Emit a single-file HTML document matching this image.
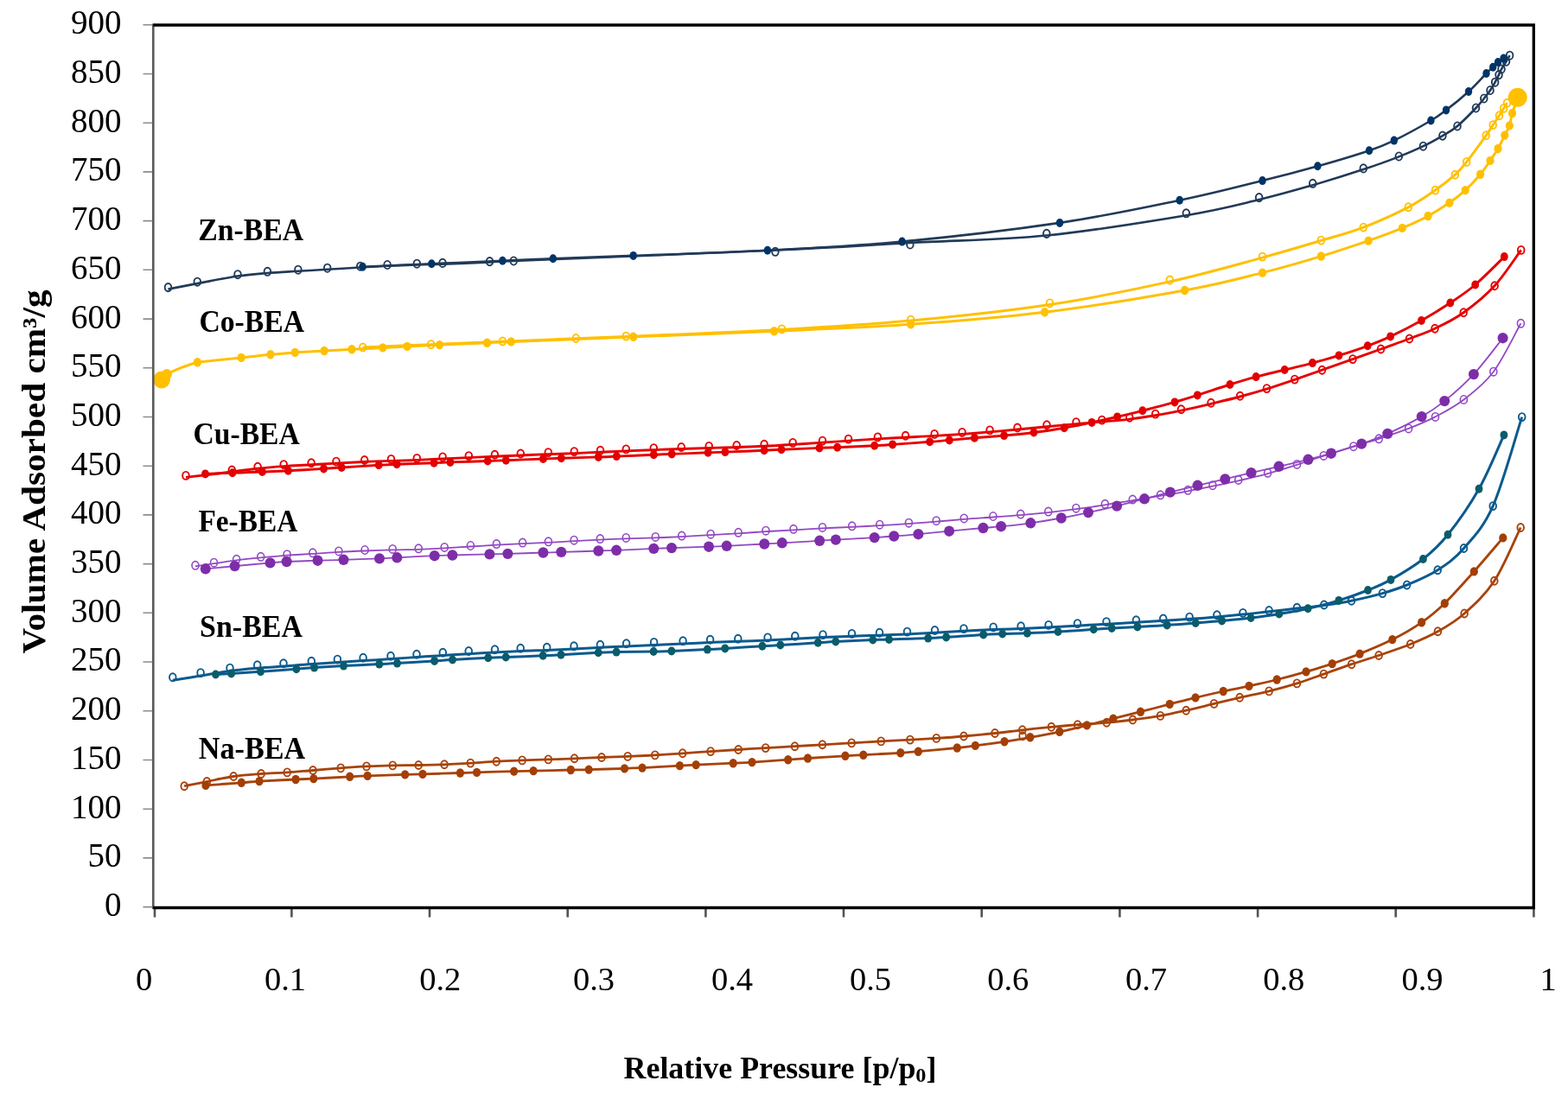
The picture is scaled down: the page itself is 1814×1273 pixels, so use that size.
<!DOCTYPE html><html><head><meta charset="utf-8"><title>Isotherms</title><style>html,body{margin:0;padding:0;background:#fff;}svg{display:block;}text{font-family:"Liberation Serif",serif;}</style></head><body>
<svg width="1814" height="1273" viewBox="0 0 1814 1273">
<rect width="1814" height="1273" fill="#fff"/>
<path d="M165.5,1049.6 H177 M165.5,992.9 H177 M165.5,936.2 H177 M165.5,879.5 H177 M165.5,822.8 H177 M165.5,766 H177 M165.5,709.3 H177 M165.5,652.6 H177 M165.5,595.9 H177 M165.5,539.2 H177 M165.5,482.5 H177 M165.5,425.8 H177 M165.5,369.1 H177 M165.5,312.3 H177 M165.5,255.6 H177 M165.5,198.9 H177 M165.5,142.2 H177 M165.5,85.5 H177 M165.5,28.8 H177" stroke="#8c8c8c" stroke-width="1.6" fill="none"/>
<path d="M179,1051 V1061.5 M337.4,1051 V1061.5 M497,1051 V1061.5 M656.7,1051 V1061.5 M816.4,1051 V1061.5 M976,1051 V1061.5 M1135.7,1051 V1061.5 M1295.4,1051 V1061.5 M1455.1,1051 V1061.5 M1614.7,1051 V1061.5 M1774.4,1051 V1061.5" stroke="#555" stroke-width="2.6" fill="none"/>
<g><path d="M238,908.9C244.9,908.4 269,906.6 279.3,905.8C289.6,905 289.5,904.8 300,904.1C310.5,903.5 331.6,902.5 342.1,902C352.6,901.4 352.4,901.6 362.8,901.1C373.2,900.6 394.3,899.4 404.7,898.8C415.1,898.3 414.5,898.3 425.2,897.9C435.9,897.5 458,896.7 468.6,896.4C479.2,896.1 478.4,896.2 489,895.9C499.6,895.6 522,894.8 532.4,894.5C542.8,894.1 541.2,894.2 551.6,893.9C562,893.5 583.7,892.9 594.6,892.6C605.5,892.3 606.2,892.3 617.1,892.1C628,891.8 649.6,891.3 660.3,891C671,890.8 670.8,890.9 681.2,890.6C691.6,890.3 712.2,889.7 722.5,889.4C732.8,889.1 732.4,889.1 743,888.6C753.6,888 776,886.7 786.4,886.1C796.8,885.5 794.9,885.6 805.2,885.1C815.5,884.6 837.4,883.7 848.2,883.2C859,882.7 859.4,882.8 870,882.1C880.6,881.4 901,879.9 911.7,879.2C922.5,878.4 923.5,878.3 934.5,877.5C945.5,876.8 967.2,875.5 977.9,874.8C988.6,874.2 988.1,874.2 998.8,873.7C1009.4,873.1 1031.2,871.9 1041.8,871.3C1052.4,870.6 1051.4,870.7 1062.3,869.7C1073.2,868.8 1096.3,866.6 1107.3,865.5C1118.3,864.3 1119.2,864.1 1128.3,862.9C1137.4,861.7 1151.4,859.8 1162,858.3C1172.6,856.7 1181.2,855.3 1191.8,853.3C1202.4,851.4 1214.9,849.1 1225.8,846.8C1236.7,844.5 1247.1,841.9 1257.4,839.4C1267.8,836.9 1277.6,834.4 1287.9,831.7C1298.2,829.1 1308.6,826.5 1319.5,823.7C1330.4,820.9 1342.6,817.7 1353.2,814.9C1363.8,812.2 1372.7,809.8 1383,807.4C1393.3,804.9 1404.9,802.3 1415.2,800C1425.5,797.8 1434.7,796.2 1445,793.9C1455.3,791.7 1466.2,789.3 1477.2,786.5C1488.2,783.8 1500.3,780.5 1511,777.4C1521.7,774.4 1530.9,771.5 1541.2,768.1C1551.5,764.6 1561.5,761.3 1573.1,756.6C1584.7,752 1598.9,746.2 1610.8,740.1C1622.7,734.1 1634.5,727.3 1644.6,720.3C1654.7,713.4 1661.2,708 1671.3,698.2C1681.4,688.3 1694,674 1705.3,661.4C1716.5,648.8 1733.2,628.9 1738.8,622.4" fill="none" stroke="#A8430A" stroke-width="2.8" stroke-linejoin="round"/><path d="M213.2,909.7C217.5,908.8 229.8,906.4 239.3,904.5C248.8,902.6 259.7,900 270.2,898.5C280.7,897 291.8,896.3 302.1,895.5C312.4,894.8 322.2,894.6 332.2,893.9C342.2,893.3 351.7,892.3 362,891.5C372.3,890.6 383.9,889.7 394.2,888.9C404.5,888.1 414,887.4 424,886.9C434,886.4 444.3,886.2 454.3,885.9C464.3,885.7 474.2,885.7 484.2,885.5C494.2,885.3 504.1,885.2 514.1,884.8C524.1,884.4 534.3,883.6 544.3,883.1C554.3,882.5 564.3,881.7 574.3,881.2C584.3,880.7 594.1,880.2 604.1,879.9C614.1,879.5 624.2,879.3 634.3,878.9C644.4,878.6 654.2,878.2 664.5,877.8C674.8,877.4 685.7,876.9 696,876.5C706.3,876.2 715.9,875.9 726.2,875.4C736.5,875 747.2,874.5 757.8,873.9C768.4,873.3 779,872.5 789.7,871.8C800.4,871.1 811.4,870.3 822.1,869.6C832.9,868.9 843.6,868.1 854.2,867.5C864.8,866.8 874.8,866.2 885.7,865.6C896.6,865 908.5,864.3 919.5,863.7C930.5,863 940.4,862.5 951.4,861.8C962.4,861.2 973.9,860.5 985.2,859.9C996.5,859.2 1008,858.5 1019.3,857.9C1030.6,857.3 1042.2,856.7 1052.9,856.1C1063.6,855.5 1073,855 1083.3,854.4C1093.6,853.7 1103.7,853 1115,852C1126.3,851 1139.7,849.7 1151,848.5C1162.3,847.3 1171.9,846 1182.8,844.8C1193.7,843.6 1205.7,842.4 1216.3,841.3C1226.9,840.3 1235.9,839.6 1246.6,838.7C1257.2,837.9 1269.6,837.2 1280.2,836.3C1290.8,835.3 1300,834.3 1310.4,833C1320.8,831.6 1332.1,830.2 1342.4,828.4C1352.7,826.6 1361.9,824.5 1372.2,822.2C1382.5,819.9 1394.2,816.9 1404.5,814.4C1414.8,811.9 1423.6,809.8 1434.2,807.3C1444.8,804.9 1457.1,802.6 1468.1,799.9C1479.1,797.1 1489.9,794.2 1500.4,790.9C1511,787.6 1520.9,783.7 1531.4,780.1C1541.9,776.4 1553,772.3 1563.6,768.7C1574.2,765.1 1583.8,762.4 1595.1,758.5C1606.4,754.6 1620.3,750.1 1631.7,745.5C1643.1,740.9 1653,736.7 1663.4,730.8C1673.8,724.9 1683.2,719.7 1694.1,710C1705,700.3 1717.9,688.9 1728.8,672.3C1739.7,655.7 1754.1,620.8 1759.2,610.5" fill="none" stroke="#A8430A" stroke-width="2.8" stroke-linejoin="round"/><ellipse cx="213.2" cy="909.7" rx="3.8" ry="4.5" fill="none" stroke="#A8430A" stroke-width="1.9"/><ellipse cx="239.3" cy="904.5" rx="3.8" ry="4.5" fill="none" stroke="#A8430A" stroke-width="1.9"/><ellipse cx="270.2" cy="898.5" rx="3.8" ry="4.5" fill="none" stroke="#A8430A" stroke-width="1.9"/><ellipse cx="302.1" cy="895.5" rx="3.8" ry="4.5" fill="none" stroke="#A8430A" stroke-width="1.9"/><ellipse cx="332.2" cy="893.9" rx="3.8" ry="4.5" fill="none" stroke="#A8430A" stroke-width="1.9"/><ellipse cx="362" cy="891.5" rx="3.8" ry="4.5" fill="none" stroke="#A8430A" stroke-width="1.9"/><ellipse cx="394.2" cy="888.9" rx="3.8" ry="4.5" fill="none" stroke="#A8430A" stroke-width="1.9"/><ellipse cx="424" cy="886.9" rx="3.8" ry="4.5" fill="none" stroke="#A8430A" stroke-width="1.9"/><ellipse cx="454.3" cy="885.9" rx="3.8" ry="4.5" fill="none" stroke="#A8430A" stroke-width="1.9"/><ellipse cx="484.2" cy="885.5" rx="3.8" ry="4.5" fill="none" stroke="#A8430A" stroke-width="1.9"/><ellipse cx="514.1" cy="884.8" rx="3.8" ry="4.5" fill="none" stroke="#A8430A" stroke-width="1.9"/><ellipse cx="544.3" cy="883.1" rx="3.8" ry="4.5" fill="none" stroke="#A8430A" stroke-width="1.9"/><ellipse cx="574.3" cy="881.2" rx="3.8" ry="4.5" fill="none" stroke="#A8430A" stroke-width="1.9"/><ellipse cx="604.1" cy="879.9" rx="3.8" ry="4.5" fill="none" stroke="#A8430A" stroke-width="1.9"/><ellipse cx="634.3" cy="878.9" rx="3.8" ry="4.5" fill="none" stroke="#A8430A" stroke-width="1.9"/><ellipse cx="664.5" cy="877.8" rx="3.8" ry="4.5" fill="none" stroke="#A8430A" stroke-width="1.9"/><ellipse cx="696" cy="876.5" rx="3.8" ry="4.5" fill="none" stroke="#A8430A" stroke-width="1.9"/><ellipse cx="726.2" cy="875.4" rx="3.8" ry="4.5" fill="none" stroke="#A8430A" stroke-width="1.9"/><ellipse cx="757.8" cy="873.9" rx="3.8" ry="4.5" fill="none" stroke="#A8430A" stroke-width="1.9"/><ellipse cx="789.7" cy="871.8" rx="3.8" ry="4.5" fill="none" stroke="#A8430A" stroke-width="1.9"/><ellipse cx="822.1" cy="869.6" rx="3.8" ry="4.5" fill="none" stroke="#A8430A" stroke-width="1.9"/><ellipse cx="854.2" cy="867.5" rx="3.8" ry="4.5" fill="none" stroke="#A8430A" stroke-width="1.9"/><ellipse cx="885.7" cy="865.6" rx="3.8" ry="4.5" fill="none" stroke="#A8430A" stroke-width="1.9"/><ellipse cx="919.5" cy="863.7" rx="3.8" ry="4.5" fill="none" stroke="#A8430A" stroke-width="1.9"/><ellipse cx="951.4" cy="861.8" rx="3.8" ry="4.5" fill="none" stroke="#A8430A" stroke-width="1.9"/><ellipse cx="985.2" cy="859.9" rx="3.8" ry="4.5" fill="none" stroke="#A8430A" stroke-width="1.9"/><ellipse cx="1019.3" cy="857.9" rx="3.8" ry="4.5" fill="none" stroke="#A8430A" stroke-width="1.9"/><ellipse cx="1052.9" cy="856.1" rx="3.8" ry="4.5" fill="none" stroke="#A8430A" stroke-width="1.9"/><ellipse cx="1083.3" cy="854.4" rx="3.8" ry="4.5" fill="none" stroke="#A8430A" stroke-width="1.9"/><ellipse cx="1115" cy="852" rx="3.8" ry="4.5" fill="none" stroke="#A8430A" stroke-width="1.9"/><ellipse cx="1151" cy="848.5" rx="3.8" ry="4.5" fill="none" stroke="#A8430A" stroke-width="1.9"/><ellipse cx="1182.8" cy="844.8" rx="3.8" ry="4.5" fill="none" stroke="#A8430A" stroke-width="1.9"/><ellipse cx="1216.3" cy="841.3" rx="3.8" ry="4.5" fill="none" stroke="#A8430A" stroke-width="1.9"/><ellipse cx="1246.6" cy="838.7" rx="3.8" ry="4.5" fill="none" stroke="#A8430A" stroke-width="1.9"/><ellipse cx="1280.2" cy="836.3" rx="3.8" ry="4.5" fill="none" stroke="#A8430A" stroke-width="1.9"/><ellipse cx="1310.4" cy="833" rx="3.8" ry="4.5" fill="none" stroke="#A8430A" stroke-width="1.9"/><ellipse cx="1342.4" cy="828.4" rx="3.8" ry="4.5" fill="none" stroke="#A8430A" stroke-width="1.9"/><ellipse cx="1372.2" cy="822.2" rx="3.8" ry="4.5" fill="none" stroke="#A8430A" stroke-width="1.9"/><ellipse cx="1404.5" cy="814.4" rx="3.8" ry="4.5" fill="none" stroke="#A8430A" stroke-width="1.9"/><ellipse cx="1434.2" cy="807.3" rx="3.8" ry="4.5" fill="none" stroke="#A8430A" stroke-width="1.9"/><ellipse cx="1468.1" cy="799.9" rx="3.8" ry="4.5" fill="none" stroke="#A8430A" stroke-width="1.9"/><ellipse cx="1500.4" cy="790.9" rx="3.8" ry="4.5" fill="none" stroke="#A8430A" stroke-width="1.9"/><ellipse cx="1531.4" cy="780.1" rx="3.8" ry="4.5" fill="none" stroke="#A8430A" stroke-width="1.9"/><ellipse cx="1563.6" cy="768.7" rx="3.8" ry="4.5" fill="none" stroke="#A8430A" stroke-width="1.9"/><ellipse cx="1595.1" cy="758.5" rx="3.8" ry="4.5" fill="none" stroke="#A8430A" stroke-width="1.9"/><ellipse cx="1631.7" cy="745.5" rx="3.8" ry="4.5" fill="none" stroke="#A8430A" stroke-width="1.9"/><ellipse cx="1663.4" cy="730.8" rx="3.8" ry="4.5" fill="none" stroke="#A8430A" stroke-width="1.9"/><ellipse cx="1694.1" cy="710" rx="3.8" ry="4.5" fill="none" stroke="#A8430A" stroke-width="1.9"/><ellipse cx="1728.8" cy="672.3" rx="3.8" ry="4.5" fill="none" stroke="#A8430A" stroke-width="1.9"/><ellipse cx="1759.2" cy="610.5" rx="3.8" ry="4.5" fill="none" stroke="#A8430A" stroke-width="1.9"/><ellipse cx="238" cy="908.9" rx="4.6" ry="5.2" fill="#A33F05"/><ellipse cx="279.3" cy="905.8" rx="4.6" ry="5.2" fill="#A33F05"/><ellipse cx="300" cy="904.1" rx="4.6" ry="5.2" fill="#A33F05"/><ellipse cx="342.1" cy="902" rx="4.6" ry="5.2" fill="#A33F05"/><ellipse cx="362.8" cy="901.1" rx="4.6" ry="5.2" fill="#A33F05"/><ellipse cx="404.7" cy="898.8" rx="4.6" ry="5.2" fill="#A33F05"/><ellipse cx="425.2" cy="897.9" rx="4.6" ry="5.2" fill="#A33F05"/><ellipse cx="468.6" cy="896.4" rx="4.6" ry="5.2" fill="#A33F05"/><ellipse cx="489" cy="895.9" rx="4.6" ry="5.2" fill="#A33F05"/><ellipse cx="532.4" cy="894.5" rx="4.6" ry="5.2" fill="#A33F05"/><ellipse cx="551.6" cy="893.9" rx="4.6" ry="5.2" fill="#A33F05"/><ellipse cx="594.6" cy="892.6" rx="4.6" ry="5.2" fill="#A33F05"/><ellipse cx="617.1" cy="892.1" rx="4.6" ry="5.2" fill="#A33F05"/><ellipse cx="660.3" cy="891" rx="4.6" ry="5.2" fill="#A33F05"/><ellipse cx="681.2" cy="890.6" rx="4.6" ry="5.2" fill="#A33F05"/><ellipse cx="722.5" cy="889.4" rx="4.6" ry="5.2" fill="#A33F05"/><ellipse cx="743" cy="888.6" rx="4.6" ry="5.2" fill="#A33F05"/><ellipse cx="786.4" cy="886.1" rx="4.6" ry="5.2" fill="#A33F05"/><ellipse cx="805.2" cy="885.1" rx="4.6" ry="5.2" fill="#A33F05"/><ellipse cx="848.2" cy="883.2" rx="4.6" ry="5.2" fill="#A33F05"/><ellipse cx="870" cy="882.1" rx="4.6" ry="5.2" fill="#A33F05"/><ellipse cx="911.7" cy="879.2" rx="4.6" ry="5.2" fill="#A33F05"/><ellipse cx="934.5" cy="877.5" rx="4.6" ry="5.2" fill="#A33F05"/><ellipse cx="977.9" cy="874.8" rx="4.6" ry="5.2" fill="#A33F05"/><ellipse cx="998.8" cy="873.7" rx="4.6" ry="5.2" fill="#A33F05"/><ellipse cx="1041.8" cy="871.3" rx="4.6" ry="5.2" fill="#A33F05"/><ellipse cx="1062.3" cy="869.7" rx="4.6" ry="5.2" fill="#A33F05"/><ellipse cx="1107.3" cy="865.5" rx="4.6" ry="5.2" fill="#A33F05"/><ellipse cx="1128.3" cy="862.9" rx="4.6" ry="5.2" fill="#A33F05"/><ellipse cx="1162" cy="858.3" rx="4.6" ry="5.2" fill="#A33F05"/><ellipse cx="1191.8" cy="853.3" rx="4.6" ry="5.2" fill="#A33F05"/><ellipse cx="1225.8" cy="846.8" rx="4.6" ry="5.2" fill="#A33F05"/><ellipse cx="1257.4" cy="839.4" rx="4.6" ry="5.2" fill="#A33F05"/><ellipse cx="1287.9" cy="831.7" rx="4.6" ry="5.2" fill="#A33F05"/><ellipse cx="1319.5" cy="823.7" rx="4.6" ry="5.2" fill="#A33F05"/><ellipse cx="1353.2" cy="814.9" rx="4.6" ry="5.2" fill="#A33F05"/><ellipse cx="1383" cy="807.4" rx="4.6" ry="5.2" fill="#A33F05"/><ellipse cx="1415.2" cy="800" rx="4.6" ry="5.2" fill="#A33F05"/><ellipse cx="1445" cy="793.9" rx="4.6" ry="5.2" fill="#A33F05"/><ellipse cx="1477.2" cy="786.5" rx="4.6" ry="5.2" fill="#A33F05"/><ellipse cx="1511" cy="777.4" rx="4.6" ry="5.2" fill="#A33F05"/><ellipse cx="1541.2" cy="768.1" rx="4.6" ry="5.2" fill="#A33F05"/><ellipse cx="1573.1" cy="756.6" rx="4.6" ry="5.2" fill="#A33F05"/><ellipse cx="1610.8" cy="740.1" rx="4.6" ry="5.2" fill="#A33F05"/><ellipse cx="1644.6" cy="720.3" rx="4.6" ry="5.2" fill="#A33F05"/><ellipse cx="1671.3" cy="698.2" rx="4.6" ry="5.2" fill="#A33F05"/><ellipse cx="1705.3" cy="661.4" rx="4.6" ry="5.2" fill="#A33F05"/><ellipse cx="1738.8" cy="622.4" rx="4.6" ry="5.2" fill="#A33F05"/><ellipse cx="1183.1" cy="851.8" rx="3.8" ry="4.5" fill="none" stroke="#A8430A" stroke-width="1.9"/></g>
<g><path d="M249.5,780.5C252.5,780.3 258.9,780 267.6,779.5C276.3,779 288.9,778.2 301.5,777.3C314.1,776.4 332.5,774.9 342.9,774.2C353.2,773.4 354.5,773.2 363.6,772.6C372.7,772 385,771.3 397.5,770.6C410,770 428.5,769.1 438.8,768.6C449.1,768.1 448.9,768.2 459.5,767.6C470.1,766.9 491.9,765.6 502.6,764.9C513.3,764.2 513.1,764.1 523.5,763.5C533.9,762.9 554.4,761.8 564.7,761.3C575,760.8 574.6,760.9 585.2,760.5C595.8,760.1 617.6,759.3 628.2,758.8C638.8,758.4 638.3,758.4 649,757.8C659.7,757.2 681.5,755.8 692.2,755.3C702.9,754.8 702.5,754.9 713.1,754.6C723.8,754.4 745.5,754.1 756.1,754C766.7,753.8 766.5,753.9 776.9,753.5C787.3,753.1 808,752.1 818.3,751.6C828.6,751.1 828.2,751.1 838.8,750.4C849.4,749.8 871.2,748.4 881.9,747.8C892.6,747.1 892.1,747.2 902.8,746.5C913.5,745.9 935.6,744.4 946.3,743.7C957,743.1 956.2,743 966.8,742.5C977.4,741.9 999.5,740.9 1009.8,740.5C1020.1,740.1 1017.9,740.4 1028.5,740C1039.2,739.7 1062.7,739.1 1073.7,738.6C1084.7,738.2 1084,738.1 1094.7,737.4C1105.4,736.7 1126.9,735 1137.7,734.4C1148.5,733.7 1151.2,733.8 1159.7,733.5C1168.2,733.2 1177.7,733.1 1188.4,732.7C1199.1,732.3 1211.2,731.8 1224,731C1236.8,730.3 1254.8,729 1265.2,728.3C1275.6,727.7 1277.8,727.5 1286.2,727C1294.7,726.6 1305.2,726 1315.9,725.4C1326.6,724.8 1338.9,724.2 1350.1,723.4C1361.3,722.7 1372.6,721.8 1383.2,721C1393.8,720.1 1402.9,719.4 1413.6,718.4C1424.2,717.4 1436.1,716.3 1447.1,715C1458.1,713.7 1468.8,712.3 1479.8,710.5C1490.8,708.8 1501.6,706.9 1513.1,704.3C1524.6,701.7 1537.2,698.5 1548.8,694.9C1560.4,691.4 1572.5,687 1582.5,683C1592.5,679 1598.3,676.9 1609,670.9C1619.7,664.9 1635.4,655.6 1646.4,647C1657.4,638.3 1664.2,632.4 1675,618.8C1685.8,605.3 1700.2,585 1711,565.8C1721.8,546.6 1735.1,513.8 1739.9,503.4" fill="none" stroke="#0B5A8E" stroke-width="3.0" stroke-linejoin="round"/><path d="M199.8,787.3C205.2,786.4 221.1,783.9 232.1,782.1C243.1,780.3 255.1,778 266,776.5C276.9,775 287.4,774.1 297.7,773.2C308,772.3 317.6,771.8 328,771.1C338.4,770.3 349.9,769.3 360.3,768.6C370.7,767.8 380.4,767.1 390.4,766.5C400.4,765.8 409.8,765.2 420.1,764.6C430.4,764 441.7,763.3 452,762.6C462.3,761.9 471.9,761.2 482,760.5C492.1,759.8 502.3,759.2 512.3,758.6C522.3,757.9 532.2,757.3 542.2,756.7C552.2,756.1 562.5,755.5 572.5,755C582.5,754.4 592.2,753.9 602.2,753.5C612.2,753 622.4,752.8 632.7,752.4C643,752 653.7,751.5 664,751C674.3,750.5 684.3,749.8 694.4,749.3C704.5,748.8 714.2,748.3 724.6,747.9C735,747.4 745.7,747 756.6,746.5C767.5,746 779.3,745.4 790.1,744.9C800.9,744.3 811,743.8 821.6,743.4C832.2,743 842.7,742.7 853.8,742.3C864.9,741.9 877.1,741.4 888.1,740.9C899.1,740.4 909.1,739.7 919.8,739.2C930.4,738.6 941,738 952,737.5C963,737.1 974.6,736.6 985.5,736.2C996.4,735.9 1006.8,735.6 1017.5,735.2C1028.2,734.8 1038.8,734.4 1049.5,733.9C1060.2,733.4 1070.6,732.9 1081.5,732.3C1092.4,731.7 1103.7,730.9 1115,730.3C1126.3,729.7 1138.2,729.1 1149.2,728.6C1160.2,728.2 1170.4,727.9 1181.1,727.5C1191.8,727 1202.2,726.6 1213.1,726C1224,725.5 1235.3,724.8 1246.5,724.2C1257.7,723.5 1268.7,722.8 1280,722.2C1291.3,721.5 1303.5,720.9 1314.4,720.3C1325.4,719.6 1335.4,719 1345.7,718.3C1356,717.7 1365.7,717 1376.1,716.3C1386.5,715.6 1397.6,714.8 1407.9,713.9C1418.2,713 1427.9,712.1 1437.9,711.1C1447.9,710.1 1457.7,709 1468.1,707.8C1478.5,706.7 1489.8,705.4 1500.4,704.1C1511,702.9 1521.3,701.9 1531.8,700.4C1542.3,699 1552.2,697.5 1563.5,695.2C1574.8,692.9 1588.7,689.7 1599.4,686.6C1610.1,683.6 1617,681.5 1627.6,677C1638.2,672.5 1652.2,666.8 1663.2,659.7C1674.2,652.6 1682.8,646.9 1693.5,634.5C1704.2,622.1 1716,610.9 1727.2,585.6C1738.4,560.3 1755.1,499.8 1760.7,482.6" fill="none" stroke="#0B5A8E" stroke-width="3.0" stroke-linejoin="round"/><ellipse cx="199.8" cy="783.8" rx="3.8" ry="4.5" fill="none" stroke="#0B5A8E" stroke-width="1.9"/><ellipse cx="232.1" cy="778.6" rx="3.8" ry="4.5" fill="none" stroke="#0B5A8E" stroke-width="1.9"/><ellipse cx="266" cy="773.1" rx="3.8" ry="4.5" fill="none" stroke="#0B5A8E" stroke-width="1.9"/><ellipse cx="297.7" cy="769.8" rx="3.8" ry="4.5" fill="none" stroke="#0B5A8E" stroke-width="1.9"/><ellipse cx="328" cy="767.7" rx="3.8" ry="4.5" fill="none" stroke="#0B5A8E" stroke-width="1.9"/><ellipse cx="360.3" cy="765.2" rx="3.8" ry="4.5" fill="none" stroke="#0B5A8E" stroke-width="1.9"/><ellipse cx="390.4" cy="763.1" rx="3.8" ry="4.5" fill="none" stroke="#0B5A8E" stroke-width="1.9"/><ellipse cx="420.1" cy="761.3" rx="3.8" ry="4.5" fill="none" stroke="#0B5A8E" stroke-width="1.9"/><ellipse cx="452" cy="759.3" rx="3.8" ry="4.5" fill="none" stroke="#0B5A8E" stroke-width="1.9"/><ellipse cx="482" cy="757.2" rx="3.8" ry="4.5" fill="none" stroke="#0B5A8E" stroke-width="1.9"/><ellipse cx="512.3" cy="755.3" rx="3.8" ry="4.5" fill="none" stroke="#0B5A8E" stroke-width="1.9"/><ellipse cx="542.2" cy="753.5" rx="3.8" ry="4.5" fill="none" stroke="#0B5A8E" stroke-width="1.9"/><ellipse cx="572.5" cy="751.8" rx="3.8" ry="4.5" fill="none" stroke="#0B5A8E" stroke-width="1.9"/><ellipse cx="602.2" cy="750.3" rx="3.8" ry="4.5" fill="none" stroke="#0B5A8E" stroke-width="1.9"/><ellipse cx="632.7" cy="749.2" rx="3.8" ry="4.5" fill="none" stroke="#0B5A8E" stroke-width="1.9"/><ellipse cx="664" cy="747.8" rx="3.8" ry="4.5" fill="none" stroke="#0B5A8E" stroke-width="1.9"/><ellipse cx="694.4" cy="746.2" rx="3.8" ry="4.5" fill="none" stroke="#0B5A8E" stroke-width="1.9"/><ellipse cx="724.6" cy="744.7" rx="3.8" ry="4.5" fill="none" stroke="#0B5A8E" stroke-width="1.9"/><ellipse cx="756.6" cy="743.4" rx="3.8" ry="4.5" fill="none" stroke="#0B5A8E" stroke-width="1.9"/><ellipse cx="790.1" cy="741.8" rx="3.8" ry="4.5" fill="none" stroke="#0B5A8E" stroke-width="1.9"/><ellipse cx="821.6" cy="740.3" rx="3.8" ry="4.5" fill="none" stroke="#0B5A8E" stroke-width="1.9"/><ellipse cx="853.8" cy="739.3" rx="3.8" ry="4.5" fill="none" stroke="#0B5A8E" stroke-width="1.9"/><ellipse cx="888.1" cy="737.9" rx="3.8" ry="4.5" fill="none" stroke="#0B5A8E" stroke-width="1.9"/><ellipse cx="919.8" cy="736.2" rx="3.8" ry="4.5" fill="none" stroke="#0B5A8E" stroke-width="1.9"/><ellipse cx="952" cy="734.6" rx="3.8" ry="4.5" fill="none" stroke="#0B5A8E" stroke-width="1.9"/><ellipse cx="985.5" cy="733.4" rx="3.8" ry="4.5" fill="none" stroke="#0B5A8E" stroke-width="1.9"/><ellipse cx="1017.5" cy="732.3" rx="3.8" ry="4.5" fill="none" stroke="#0B5A8E" stroke-width="1.9"/><ellipse cx="1049.5" cy="731.1" rx="3.8" ry="4.5" fill="none" stroke="#0B5A8E" stroke-width="1.9"/><ellipse cx="1081.5" cy="729.5" rx="3.8" ry="4.5" fill="none" stroke="#0B5A8E" stroke-width="1.9"/><ellipse cx="1115" cy="727.6" rx="3.8" ry="4.5" fill="none" stroke="#0B5A8E" stroke-width="1.9"/><ellipse cx="1149.2" cy="725.9" rx="3.8" ry="4.5" fill="none" stroke="#0B5A8E" stroke-width="1.9"/><ellipse cx="1181.1" cy="724.8" rx="3.8" ry="4.5" fill="none" stroke="#0B5A8E" stroke-width="1.9"/><ellipse cx="1213.1" cy="723.4" rx="3.8" ry="4.5" fill="none" stroke="#0B5A8E" stroke-width="1.9"/><ellipse cx="1246.5" cy="721.6" rx="3.8" ry="4.5" fill="none" stroke="#0B5A8E" stroke-width="1.9"/><ellipse cx="1280" cy="719.6" rx="3.8" ry="4.5" fill="none" stroke="#0B5A8E" stroke-width="1.9"/><ellipse cx="1314.4" cy="717.8" rx="3.8" ry="4.5" fill="none" stroke="#0B5A8E" stroke-width="1.9"/><ellipse cx="1345.7" cy="716" rx="3.8" ry="4.5" fill="none" stroke="#0B5A8E" stroke-width="1.9"/><ellipse cx="1376.1" cy="714.1" rx="3.8" ry="4.5" fill="none" stroke="#0B5A8E" stroke-width="1.9"/><ellipse cx="1407.9" cy="711.8" rx="3.8" ry="4.5" fill="none" stroke="#0B5A8E" stroke-width="1.9"/><ellipse cx="1437.9" cy="709.4" rx="3.8" ry="4.5" fill="none" stroke="#0B5A8E" stroke-width="1.9"/><ellipse cx="1468.1" cy="706.5" rx="3.8" ry="4.5" fill="none" stroke="#0B5A8E" stroke-width="1.9"/><ellipse cx="1500.4" cy="703.3" rx="3.8" ry="4.5" fill="none" stroke="#0B5A8E" stroke-width="1.9"/><ellipse cx="1531.8" cy="700" rx="3.8" ry="4.5" fill="none" stroke="#0B5A8E" stroke-width="1.9"/><ellipse cx="1563.5" cy="695.2" rx="3.8" ry="4.5" fill="none" stroke="#0B5A8E" stroke-width="1.9"/><ellipse cx="1599.4" cy="686.6" rx="3.8" ry="4.5" fill="none" stroke="#0B5A8E" stroke-width="1.9"/><ellipse cx="1627.6" cy="677" rx="3.8" ry="4.5" fill="none" stroke="#0B5A8E" stroke-width="1.9"/><ellipse cx="1663.2" cy="659.7" rx="3.8" ry="4.5" fill="none" stroke="#0B5A8E" stroke-width="1.9"/><ellipse cx="1693.5" cy="634.5" rx="3.8" ry="4.5" fill="none" stroke="#0B5A8E" stroke-width="1.9"/><ellipse cx="1727.2" cy="585.6" rx="3.8" ry="4.5" fill="none" stroke="#0B5A8E" stroke-width="1.9"/><ellipse cx="1760.7" cy="482.6" rx="3.8" ry="4.5" fill="none" stroke="#0B5A8E" stroke-width="1.9"/><ellipse cx="249.5" cy="780.5" rx="4.4" ry="5.0" fill="#0A5C6A"/><ellipse cx="267.6" cy="779.5" rx="4.4" ry="5.0" fill="#0A5C6A"/><ellipse cx="301.5" cy="777.3" rx="4.4" ry="5.0" fill="#0A5C6A"/><ellipse cx="342.9" cy="774.2" rx="4.4" ry="5.0" fill="#0A5C6A"/><ellipse cx="363.6" cy="772.6" rx="4.4" ry="5.0" fill="#0A5C6A"/><ellipse cx="397.5" cy="770.6" rx="4.4" ry="5.0" fill="#0A5C6A"/><ellipse cx="438.8" cy="768.6" rx="4.4" ry="5.0" fill="#0A5C6A"/><ellipse cx="459.5" cy="767.6" rx="4.4" ry="5.0" fill="#0A5C6A"/><ellipse cx="502.6" cy="764.9" rx="4.4" ry="5.0" fill="#0A5C6A"/><ellipse cx="523.5" cy="763.5" rx="4.4" ry="5.0" fill="#0A5C6A"/><ellipse cx="564.7" cy="761.3" rx="4.4" ry="5.0" fill="#0A5C6A"/><ellipse cx="585.2" cy="760.5" rx="4.4" ry="5.0" fill="#0A5C6A"/><ellipse cx="628.2" cy="758.8" rx="4.4" ry="5.0" fill="#0A5C6A"/><ellipse cx="649" cy="757.8" rx="4.4" ry="5.0" fill="#0A5C6A"/><ellipse cx="692.2" cy="755.3" rx="4.4" ry="5.0" fill="#0A5C6A"/><ellipse cx="713.1" cy="754.6" rx="4.4" ry="5.0" fill="#0A5C6A"/><ellipse cx="756.1" cy="754" rx="4.4" ry="5.0" fill="#0A5C6A"/><ellipse cx="776.9" cy="753.5" rx="4.4" ry="5.0" fill="#0A5C6A"/><ellipse cx="818.3" cy="751.6" rx="4.4" ry="5.0" fill="#0A5C6A"/><ellipse cx="838.8" cy="750.4" rx="4.4" ry="5.0" fill="#0A5C6A"/><ellipse cx="881.9" cy="747.8" rx="4.4" ry="5.0" fill="#0A5C6A"/><ellipse cx="902.8" cy="746.5" rx="4.4" ry="5.0" fill="#0A5C6A"/><ellipse cx="946.3" cy="743.7" rx="4.4" ry="5.0" fill="#0A5C6A"/><ellipse cx="966.8" cy="742.5" rx="4.4" ry="5.0" fill="#0A5C6A"/><ellipse cx="1009.8" cy="740.5" rx="4.4" ry="5.0" fill="#0A5C6A"/><ellipse cx="1028.5" cy="740" rx="4.4" ry="5.0" fill="#0A5C6A"/><ellipse cx="1073.7" cy="738.6" rx="4.4" ry="5.0" fill="#0A5C6A"/><ellipse cx="1094.7" cy="737.4" rx="4.4" ry="5.0" fill="#0A5C6A"/><ellipse cx="1137.7" cy="734.4" rx="4.4" ry="5.0" fill="#0A5C6A"/><ellipse cx="1159.7" cy="733.5" rx="4.4" ry="5.0" fill="#0A5C6A"/><ellipse cx="1188.4" cy="732.7" rx="4.4" ry="5.0" fill="#0A5C6A"/><ellipse cx="1224" cy="731" rx="4.4" ry="5.0" fill="#0A5C6A"/><ellipse cx="1265.2" cy="728.3" rx="4.4" ry="5.0" fill="#0A5C6A"/><ellipse cx="1286.2" cy="727" rx="4.4" ry="5.0" fill="#0A5C6A"/><ellipse cx="1315.9" cy="725.4" rx="4.4" ry="5.0" fill="#0A5C6A"/><ellipse cx="1350.1" cy="723.4" rx="4.4" ry="5.0" fill="#0A5C6A"/><ellipse cx="1383.2" cy="721" rx="4.4" ry="5.0" fill="#0A5C6A"/><ellipse cx="1413.6" cy="718.4" rx="4.4" ry="5.0" fill="#0A5C6A"/><ellipse cx="1447.1" cy="715" rx="4.4" ry="5.0" fill="#0A5C6A"/><ellipse cx="1479.8" cy="710.5" rx="4.4" ry="5.0" fill="#0A5C6A"/><ellipse cx="1513.1" cy="704.3" rx="4.4" ry="5.0" fill="#0A5C6A"/><ellipse cx="1548.8" cy="694.9" rx="4.4" ry="5.0" fill="#0A5C6A"/><ellipse cx="1582.5" cy="683" rx="4.4" ry="5.0" fill="#0A5C6A"/><ellipse cx="1609" cy="670.9" rx="4.4" ry="5.0" fill="#0A5C6A"/><ellipse cx="1646.4" cy="647" rx="4.4" ry="5.0" fill="#0A5C6A"/><ellipse cx="1675" cy="618.8" rx="4.4" ry="5.0" fill="#0A5C6A"/><ellipse cx="1711" cy="565.8" rx="4.4" ry="5.0" fill="#0A5C6A"/><ellipse cx="1739.9" cy="503.4" rx="4.4" ry="5.0" fill="#0A5C6A"/></g>
<g><path d="M237.8,658.3C243.4,657.8 259.1,656.3 271.6,655.1C284.1,654 302.6,652.2 312.6,651.4C322.6,650.5 322.5,650.5 331.6,650C340.8,649.6 356.5,649.1 367.5,648.7C378.5,648.4 385.6,648.1 397.5,647.8C409.4,647.4 428.7,646.8 439,646.4C449.3,646 448.7,645.8 459.3,645.3C469.9,644.7 492,643.6 502.7,643.2C513.4,642.7 512.8,642.8 523.4,642.5C534,642.2 555.7,641.7 566.4,641.4C577.1,641.2 577.1,641.2 587.4,640.9C597.7,640.6 618.1,639.9 628.4,639.5C638.7,639.2 638.6,639.3 649.3,638.9C659.9,638.6 681.7,637.9 692.3,637.5C702.9,637.1 702.4,637.2 713.1,636.8C723.8,636.4 745.6,635.4 756.3,634.9C766.9,634.5 766.4,634.5 777,634.1C787.6,633.7 809.4,633.1 820,632.7C830.6,632.3 830,632.3 840.7,631.8C851.4,631.2 873.6,630.1 884.3,629.5C895,629 894.1,628.9 904.8,628.3C915.4,627.6 937.9,626.4 948.2,625.8C958.6,625.2 956.3,625.2 966.9,624.6C977.5,624 1000.5,622.8 1011.7,622.1C1022.9,621.5 1025.8,621.2 1034.2,620.5C1042.7,619.9 1051.8,619.1 1062.4,618.2C1073.1,617.2 1085.6,615.9 1098.1,614.7C1110.6,613.5 1127.4,611.9 1137.4,611C1147.4,610.1 1148.9,610.2 1158.1,609.2C1167.2,608.3 1180.7,606.9 1192.3,605.3C1203.9,603.6 1216.7,601.5 1227.8,599.5C1238.9,597.5 1248.3,595.4 1259,593.1C1269.7,590.8 1281.3,588.3 1292.1,585.6C1302.9,583 1313.7,580 1324,577.3C1334.3,574.7 1343.5,572.2 1353.8,569.6C1364,567 1374.9,564.3 1385.5,561.8C1396.1,559.3 1407,556.8 1417.3,554.4C1427.6,551.9 1437.1,549.7 1447.5,547.2C1457.9,544.8 1468.5,542.4 1479.5,539.8C1490.5,537.3 1503.3,534.3 1513.4,531.8C1523.5,529.2 1529.7,527.7 1540,524.7C1550.3,521.6 1564.3,517.4 1575.2,513.6C1586.1,509.8 1593.7,507.1 1605.3,501.9C1616.9,496.6 1633.7,488.4 1644.7,482.1C1655.7,475.8 1661.2,472.2 1671.2,464.1C1681.2,455.9 1693.7,445.2 1704.9,433.1C1716.1,421 1733,398.2 1738.6,391.2" fill="none" stroke="#9248C4" stroke-width="1.8" stroke-linejoin="round"/><path d="M226,655.3C229.6,654.8 239.6,653.3 247.5,652.2C255.4,651 264.6,649.4 273.6,648.3C282.6,647.1 291.9,646.2 301.7,645.3C311.4,644.3 322.1,643.5 332.1,642.7C342.1,642 351.8,641.5 361.8,640.8C371.8,640.2 381.8,639.4 391.9,638.9C401.9,638.3 411.7,637.9 422.1,637.5C432.5,637.1 443.9,636.7 454.2,636.4C464.5,636.1 474.2,636.1 484.2,635.8C494.2,635.4 504.2,634.9 514.2,634.4C524.2,633.8 534.4,633.1 544.4,632.5C554.4,631.9 564.4,631.2 574.4,630.6C584.4,630.1 594.6,629.6 604.6,629.1C614.6,628.7 624.5,628.3 634.4,627.8C644.3,627.3 654.1,626.7 664.1,626.2C674.1,625.7 684.3,625.1 694.3,624.6C704.3,624.1 713.6,623.8 724.3,623.4C735,623 747.6,622.8 758.3,622.4C769,622 778.1,621.6 788.7,621.1C799.4,620.6 811.3,619.9 822.2,619.2C833.1,618.6 843.6,617.9 854.2,617.3C864.8,616.6 875.4,615.9 886,615.2C896.6,614.5 907.1,613.9 918,613.3C928.9,612.6 940.2,612 951.5,611.4C962.8,610.9 974.7,610.3 985.7,609.8C996.7,609.3 1006.8,608.8 1017.7,608.2C1028.7,607.6 1040.5,607 1051.4,606.2C1062.3,605.5 1072.6,604.6 1083.2,603.7C1093.8,602.8 1104.3,601.8 1115.3,600.9C1126.2,600 1138,599.3 1148.9,598.5C1159.8,597.7 1170.2,597 1180.8,596.1C1191.4,595.2 1202.1,594.2 1212.8,593.1C1223.5,591.9 1234,590.6 1244.9,589.2C1255.8,587.7 1267.5,586 1278.4,584.3C1289.3,582.7 1299.6,580.8 1310.3,579.1C1321,577.3 1331.8,575.6 1342.5,573.8C1353.2,572 1364.2,570.2 1374.3,568.3C1384.4,566.5 1393.2,564.7 1402.9,562.7C1412.6,560.7 1422.1,558.8 1432.7,556.4C1443.3,553.9 1455.3,551.2 1466.6,548.1C1477.9,545 1489.7,541.4 1500.5,537.9C1511.3,534.5 1520.4,531.2 1531.3,527.6C1542.2,524.1 1555.2,520.1 1565.9,516.7C1576.6,513.4 1584.6,511.3 1595.2,507.8C1605.8,504.3 1618.7,500.1 1629.6,495.9C1640.5,491.7 1649.9,487.9 1660.5,482.4C1671.1,476.8 1682.2,471.2 1693.4,462.5C1704.6,453.8 1716.8,444.9 1727.8,430.2C1738.8,415.5 1754.1,383.6 1759.4,374.3" fill="none" stroke="#9248C4" stroke-width="1.8" stroke-linejoin="round"/><ellipse cx="226" cy="654.3" rx="4.0" ry="4.7" fill="none" stroke="#9248C4" stroke-width="1.6"/><ellipse cx="247.5" cy="651.2" rx="4.0" ry="4.7" fill="none" stroke="#9248C4" stroke-width="1.6"/><ellipse cx="273.6" cy="647.3" rx="4.0" ry="4.7" fill="none" stroke="#9248C4" stroke-width="1.6"/><ellipse cx="301.7" cy="644.3" rx="4.0" ry="4.7" fill="none" stroke="#9248C4" stroke-width="1.6"/><ellipse cx="332.1" cy="641.7" rx="4.0" ry="4.7" fill="none" stroke="#9248C4" stroke-width="1.6"/><ellipse cx="361.8" cy="639.8" rx="4.0" ry="4.7" fill="none" stroke="#9248C4" stroke-width="1.6"/><ellipse cx="391.9" cy="637.9" rx="4.0" ry="4.7" fill="none" stroke="#9248C4" stroke-width="1.6"/><ellipse cx="422.1" cy="636.5" rx="4.0" ry="4.7" fill="none" stroke="#9248C4" stroke-width="1.6"/><ellipse cx="454.2" cy="635.4" rx="4.0" ry="4.7" fill="none" stroke="#9248C4" stroke-width="1.6"/><ellipse cx="484.2" cy="634.8" rx="4.0" ry="4.7" fill="none" stroke="#9248C4" stroke-width="1.6"/><ellipse cx="514.2" cy="633.4" rx="4.0" ry="4.7" fill="none" stroke="#9248C4" stroke-width="1.6"/><ellipse cx="544.4" cy="631.5" rx="4.0" ry="4.7" fill="none" stroke="#9248C4" stroke-width="1.6"/><ellipse cx="574.4" cy="629.6" rx="4.0" ry="4.7" fill="none" stroke="#9248C4" stroke-width="1.6"/><ellipse cx="604.6" cy="628.1" rx="4.0" ry="4.7" fill="none" stroke="#9248C4" stroke-width="1.6"/><ellipse cx="634.4" cy="626.8" rx="4.0" ry="4.7" fill="none" stroke="#9248C4" stroke-width="1.6"/><ellipse cx="664.1" cy="625.2" rx="4.0" ry="4.7" fill="none" stroke="#9248C4" stroke-width="1.6"/><ellipse cx="694.3" cy="623.6" rx="4.0" ry="4.7" fill="none" stroke="#9248C4" stroke-width="1.6"/><ellipse cx="724.3" cy="622.4" rx="4.0" ry="4.7" fill="none" stroke="#9248C4" stroke-width="1.6"/><ellipse cx="758.3" cy="621.4" rx="4.0" ry="4.7" fill="none" stroke="#9248C4" stroke-width="1.6"/><ellipse cx="788.7" cy="620.1" rx="4.0" ry="4.7" fill="none" stroke="#9248C4" stroke-width="1.6"/><ellipse cx="822.2" cy="618.2" rx="4.0" ry="4.7" fill="none" stroke="#9248C4" stroke-width="1.6"/><ellipse cx="854.2" cy="616.3" rx="4.0" ry="4.7" fill="none" stroke="#9248C4" stroke-width="1.6"/><ellipse cx="886" cy="614.2" rx="4.0" ry="4.7" fill="none" stroke="#9248C4" stroke-width="1.6"/><ellipse cx="918" cy="612.3" rx="4.0" ry="4.7" fill="none" stroke="#9248C4" stroke-width="1.6"/><ellipse cx="951.5" cy="610.4" rx="4.0" ry="4.7" fill="none" stroke="#9248C4" stroke-width="1.6"/><ellipse cx="985.7" cy="608.8" rx="4.0" ry="4.7" fill="none" stroke="#9248C4" stroke-width="1.6"/><ellipse cx="1017.7" cy="607.2" rx="4.0" ry="4.7" fill="none" stroke="#9248C4" stroke-width="1.6"/><ellipse cx="1051.4" cy="605.2" rx="4.0" ry="4.7" fill="none" stroke="#9248C4" stroke-width="1.6"/><ellipse cx="1083.2" cy="602.7" rx="4.0" ry="4.7" fill="none" stroke="#9248C4" stroke-width="1.6"/><ellipse cx="1115.3" cy="599.9" rx="4.0" ry="4.7" fill="none" stroke="#9248C4" stroke-width="1.6"/><ellipse cx="1148.9" cy="597.5" rx="4.0" ry="4.7" fill="none" stroke="#9248C4" stroke-width="1.6"/><ellipse cx="1180.8" cy="595.1" rx="4.0" ry="4.7" fill="none" stroke="#9248C4" stroke-width="1.6"/><ellipse cx="1212.8" cy="592.1" rx="4.0" ry="4.7" fill="none" stroke="#9248C4" stroke-width="1.6"/><ellipse cx="1244.9" cy="588.2" rx="4.0" ry="4.7" fill="none" stroke="#9248C4" stroke-width="1.6"/><ellipse cx="1278.4" cy="583.3" rx="4.0" ry="4.7" fill="none" stroke="#9248C4" stroke-width="1.6"/><ellipse cx="1310.3" cy="578.1" rx="4.0" ry="4.7" fill="none" stroke="#9248C4" stroke-width="1.6"/><ellipse cx="1342.5" cy="572.8" rx="4.0" ry="4.7" fill="none" stroke="#9248C4" stroke-width="1.6"/><ellipse cx="1374.3" cy="567.3" rx="4.0" ry="4.7" fill="none" stroke="#9248C4" stroke-width="1.6"/><ellipse cx="1402.9" cy="561.7" rx="4.0" ry="4.7" fill="none" stroke="#9248C4" stroke-width="1.6"/><ellipse cx="1432.7" cy="555.4" rx="4.0" ry="4.7" fill="none" stroke="#9248C4" stroke-width="1.6"/><ellipse cx="1466.6" cy="547.3" rx="4.0" ry="4.7" fill="none" stroke="#9248C4" stroke-width="1.6"/><ellipse cx="1500.5" cy="537.4" rx="4.0" ry="4.7" fill="none" stroke="#9248C4" stroke-width="1.6"/><ellipse cx="1531.3" cy="527.4" rx="4.0" ry="4.7" fill="none" stroke="#9248C4" stroke-width="1.6"/><ellipse cx="1565.9" cy="516.7" rx="4.0" ry="4.7" fill="none" stroke="#9248C4" stroke-width="1.6"/><ellipse cx="1595.2" cy="507.8" rx="4.0" ry="4.7" fill="none" stroke="#9248C4" stroke-width="1.6"/><ellipse cx="1629.6" cy="495.9" rx="4.0" ry="4.7" fill="none" stroke="#9248C4" stroke-width="1.6"/><ellipse cx="1660.5" cy="482.4" rx="4.0" ry="4.7" fill="none" stroke="#9248C4" stroke-width="1.6"/><ellipse cx="1693.4" cy="462.5" rx="4.0" ry="4.7" fill="none" stroke="#9248C4" stroke-width="1.6"/><ellipse cx="1727.8" cy="430.2" rx="4.0" ry="4.7" fill="none" stroke="#9248C4" stroke-width="1.6"/><ellipse cx="1759.4" cy="374.3" rx="4.0" ry="4.7" fill="none" stroke="#9248C4" stroke-width="1.6"/><ellipse cx="237.8" cy="658.3" rx="6.0" ry="6.2" fill="#7E2DA9"/><ellipse cx="271.6" cy="655.1" rx="6.0" ry="6.2" fill="#7E2DA9"/><ellipse cx="312.6" cy="651.4" rx="6.0" ry="6.2" fill="#7E2DA9"/><ellipse cx="331.6" cy="650" rx="6.0" ry="6.2" fill="#7E2DA9"/><ellipse cx="367.5" cy="648.7" rx="6.0" ry="6.2" fill="#7E2DA9"/><ellipse cx="397.5" cy="647.8" rx="6.0" ry="6.2" fill="#7E2DA9"/><ellipse cx="439" cy="646.4" rx="6.0" ry="6.2" fill="#7E2DA9"/><ellipse cx="459.3" cy="645.3" rx="6.0" ry="6.2" fill="#7E2DA9"/><ellipse cx="502.7" cy="643.2" rx="6.0" ry="6.2" fill="#7E2DA9"/><ellipse cx="523.4" cy="642.5" rx="6.0" ry="6.2" fill="#7E2DA9"/><ellipse cx="566.4" cy="641.4" rx="6.0" ry="6.2" fill="#7E2DA9"/><ellipse cx="587.4" cy="640.9" rx="6.0" ry="6.2" fill="#7E2DA9"/><ellipse cx="628.4" cy="639.5" rx="6.0" ry="6.2" fill="#7E2DA9"/><ellipse cx="649.3" cy="638.9" rx="6.0" ry="6.2" fill="#7E2DA9"/><ellipse cx="692.3" cy="637.5" rx="6.0" ry="6.2" fill="#7E2DA9"/><ellipse cx="713.1" cy="636.8" rx="6.0" ry="6.2" fill="#7E2DA9"/><ellipse cx="756.3" cy="634.9" rx="6.0" ry="6.2" fill="#7E2DA9"/><ellipse cx="777" cy="634.1" rx="6.0" ry="6.2" fill="#7E2DA9"/><ellipse cx="820" cy="632.7" rx="6.0" ry="6.2" fill="#7E2DA9"/><ellipse cx="840.7" cy="631.8" rx="6.0" ry="6.2" fill="#7E2DA9"/><ellipse cx="884.3" cy="629.5" rx="6.0" ry="6.2" fill="#7E2DA9"/><ellipse cx="904.8" cy="628.3" rx="6.0" ry="6.2" fill="#7E2DA9"/><ellipse cx="948.2" cy="625.8" rx="6.0" ry="6.2" fill="#7E2DA9"/><ellipse cx="966.9" cy="624.6" rx="6.0" ry="6.2" fill="#7E2DA9"/><ellipse cx="1011.7" cy="622.1" rx="6.0" ry="6.2" fill="#7E2DA9"/><ellipse cx="1034.2" cy="620.5" rx="6.0" ry="6.2" fill="#7E2DA9"/><ellipse cx="1062.4" cy="618.2" rx="6.0" ry="6.2" fill="#7E2DA9"/><ellipse cx="1098.1" cy="614.7" rx="6.0" ry="6.2" fill="#7E2DA9"/><ellipse cx="1137.4" cy="611" rx="6.0" ry="6.2" fill="#7E2DA9"/><ellipse cx="1158.1" cy="609.2" rx="6.0" ry="6.2" fill="#7E2DA9"/><ellipse cx="1192.3" cy="605.3" rx="6.0" ry="6.2" fill="#7E2DA9"/><ellipse cx="1227.8" cy="599.5" rx="6.0" ry="6.2" fill="#7E2DA9"/><ellipse cx="1259" cy="593.1" rx="6.0" ry="6.2" fill="#7E2DA9"/><ellipse cx="1292.1" cy="585.6" rx="6.0" ry="6.2" fill="#7E2DA9"/><ellipse cx="1324" cy="577.3" rx="6.0" ry="6.2" fill="#7E2DA9"/><ellipse cx="1353.8" cy="569.6" rx="6.0" ry="6.2" fill="#7E2DA9"/><ellipse cx="1385.5" cy="561.8" rx="6.0" ry="6.2" fill="#7E2DA9"/><ellipse cx="1417.3" cy="554.4" rx="6.0" ry="6.2" fill="#7E2DA9"/><ellipse cx="1447.5" cy="547.2" rx="6.0" ry="6.2" fill="#7E2DA9"/><ellipse cx="1479.5" cy="539.8" rx="6.0" ry="6.2" fill="#7E2DA9"/><ellipse cx="1513.4" cy="531.8" rx="6.0" ry="6.2" fill="#7E2DA9"/><ellipse cx="1540" cy="524.7" rx="6.0" ry="6.2" fill="#7E2DA9"/><ellipse cx="1575.2" cy="513.6" rx="6.0" ry="6.2" fill="#7E2DA9"/><ellipse cx="1605.3" cy="501.9" rx="6.0" ry="6.2" fill="#7E2DA9"/><ellipse cx="1644.7" cy="482.1" rx="6.0" ry="6.2" fill="#7E2DA9"/><ellipse cx="1671.2" cy="464.1" rx="6.0" ry="6.2" fill="#7E2DA9"/><ellipse cx="1704.9" cy="433.1" rx="6.0" ry="6.2" fill="#7E2DA9"/><ellipse cx="1738.6" cy="391.2" rx="6.0" ry="6.2" fill="#7E2DA9"/></g>
<g><path d="M237.5,548.4C242.7,548.2 257.9,547.6 268.9,547.2C279.9,546.9 292.6,546.5 303.4,546C314.1,545.6 321.5,545.4 333.4,544.8C345.2,544.2 364.2,543.1 374.5,542.4C384.8,541.8 384.6,541.6 395.2,541C405.8,540.3 427.5,538.9 438.2,538.3C448.9,537.7 448.5,537.7 459.1,537.3C469.8,536.9 491.8,536.1 502.1,535.7C512.4,535.3 510.5,535.3 520.9,534.9C531.2,534.6 553.5,533.8 564.2,533.5C575,533.1 574.7,533.1 585.4,532.7C596.1,532.3 617.8,531.4 628.4,531C639,530.6 638.6,530.6 649.3,530.3C659.9,529.9 681.6,529.3 692.3,528.9C703,528.6 702.6,528.6 713.3,528.1C724,527.7 745.6,526.7 756.3,526.3C766.9,525.8 766.7,525.8 777.2,525.4C787.7,525 808.8,524.2 819.1,523.8C829.4,523.5 828.1,523.6 838.9,523.1C849.7,522.7 873.2,521.7 884.1,521.2C895,520.7 893.4,520.7 904,520.3C914.6,519.8 937.2,518.9 948,518.4C958.8,518 958.1,518.1 968.7,517.7C979.3,517.2 1001.1,516.3 1011.7,515.8C1022.4,515.2 1021.9,515.2 1032.6,514.4C1043.2,513.7 1064.6,512.2 1075.6,511.3C1086.5,510.5 1089.7,510.1 1098.3,509.4C1106.9,508.6 1116.9,507.7 1127.4,506.8C1138,505.9 1150.2,505.1 1161.6,504.1C1173,503 1184.4,502 1196,500.5C1207.6,499 1220,497.2 1231.2,495.2C1242.4,493.3 1252.9,491.1 1263.1,488.9C1273.3,486.8 1282.8,484.6 1292.6,482.4C1302.4,480.1 1310.7,478.1 1321.8,475.3C1332.9,472.4 1348.4,468.4 1359,465.4C1369.6,462.4 1374.6,460.8 1385.3,457.4C1396,454 1411.6,448.5 1422.9,445C1434.2,441.4 1442.5,438.9 1453.1,436.1C1463.6,433.3 1475.3,430.7 1486.2,428C1497.1,425.3 1507.9,422.9 1518.4,420.1C1528.9,417.3 1538.4,414.7 1549,411.4C1559.6,408.1 1572.3,403.9 1582.2,400.3C1592.1,396.6 1598.2,394.3 1608.6,389.4C1619,384.5 1632.9,377.4 1644.4,371C1655.9,364.5 1667.4,357.4 1677.8,350.5C1688.2,343.6 1696.3,338.4 1706.7,329.5C1717.1,320.6 1734.7,302.5 1740.3,297.1" fill="none" stroke="#E60000" stroke-width="2.9" stroke-linejoin="round"/><path d="M215,552.4C223.9,551.3 254.5,547.7 268.3,546C282.2,544.3 288.1,543.3 298.1,542.2C308.1,541.1 317.9,540.3 328.2,539.6C338.5,538.9 350,538.4 360.1,537.8C370.2,537.2 378.7,536.7 389,536.1C399.3,535.5 411.1,534.9 421.7,534.5C432.3,534 442.4,533.7 452.5,533.4C462.6,533 472.4,532.8 482.3,532.4C492.2,531.9 502.1,531.4 512.1,530.9C522.1,530.5 532.2,530 542.3,529.6C552.3,529.1 562.4,528.7 572.4,528.2C582.4,527.8 592,527.4 602.3,527C612.6,526.5 624,526 634.3,525.6C644.6,525.2 654.3,525 664.3,524.6C674.3,524.2 684.5,523.6 694.5,523.2C704.5,522.8 714,522.3 724.3,521.9C734.6,521.5 745.6,521 756.3,520.6C766.9,520.2 777.6,519.9 788.2,519.5C798.9,519.1 809.5,518.8 820.2,518.4C830.9,518.1 841.6,517.9 852.2,517.5C862.9,517.2 873.3,516.8 884.1,516.3C894.9,515.8 906,515.1 917.2,514.4C928.4,513.7 940.8,512.8 951.5,512.1C962.2,511.4 970.9,510.8 981.5,510.1C992.1,509.4 1004.4,508.6 1015.4,507.9C1026.4,507.3 1036.6,506.8 1047.6,506.2C1058.5,505.6 1070.2,505.1 1081.1,504.4C1092,503.8 1102.4,503.1 1113.1,502.4C1123.8,501.6 1134.4,500.8 1145.1,499.9C1155.8,499 1166,498.1 1177,497C1188,496 1199.7,494.8 1211,493.8C1222.3,492.7 1234.4,491.6 1245,490.6C1255.6,489.6 1264.5,489 1274.8,488.1C1285.1,487.1 1296.5,486.4 1306.8,485.1C1317.1,483.9 1326.8,482.4 1336.7,480.8C1346.7,479.1 1355.8,477.3 1366.5,475.1C1377.2,472.8 1389.7,470 1401,467.3C1412.3,464.6 1423.8,461.9 1434.6,459C1445.3,456.1 1455,453.3 1465.5,450.1C1476,446.8 1487.1,443 1497.8,439.4C1508.5,435.7 1518.3,432.2 1529.5,428.2C1540.7,424.3 1553.7,419.7 1565,415.6C1576.3,411.6 1586.6,407.9 1597.5,404C1608.4,400 1620.1,395.9 1630.5,392C1640.9,388 1649.5,385.3 1660,380.2C1670.5,375.2 1681.7,370 1693.2,361.7C1704.7,353.4 1718,342.8 1729.1,330.7C1740.2,318.6 1754.6,296.3 1759.7,289.4" fill="none" stroke="#E60000" stroke-width="2.9" stroke-linejoin="round"/><ellipse cx="215" cy="550.4" rx="3.8" ry="4.5" fill="none" stroke="#E60000" stroke-width="1.9"/><ellipse cx="268.3" cy="544" rx="3.8" ry="4.5" fill="none" stroke="#E60000" stroke-width="1.9"/><ellipse cx="298.1" cy="540.2" rx="3.8" ry="4.5" fill="none" stroke="#E60000" stroke-width="1.9"/><ellipse cx="328.2" cy="537.6" rx="3.8" ry="4.5" fill="none" stroke="#E60000" stroke-width="1.9"/><ellipse cx="360.1" cy="535.8" rx="3.8" ry="4.5" fill="none" stroke="#E60000" stroke-width="1.9"/><ellipse cx="389" cy="534.1" rx="3.8" ry="4.5" fill="none" stroke="#E60000" stroke-width="1.9"/><ellipse cx="421.7" cy="532.5" rx="3.8" ry="4.5" fill="none" stroke="#E60000" stroke-width="1.9"/><ellipse cx="452.5" cy="531.4" rx="3.8" ry="4.5" fill="none" stroke="#E60000" stroke-width="1.9"/><ellipse cx="482.3" cy="530.4" rx="3.8" ry="4.5" fill="none" stroke="#E60000" stroke-width="1.9"/><ellipse cx="512.1" cy="528.9" rx="3.8" ry="4.5" fill="none" stroke="#E60000" stroke-width="1.9"/><ellipse cx="542.3" cy="527.6" rx="3.8" ry="4.5" fill="none" stroke="#E60000" stroke-width="1.9"/><ellipse cx="572.4" cy="526.2" rx="3.8" ry="4.5" fill="none" stroke="#E60000" stroke-width="1.9"/><ellipse cx="602.3" cy="525" rx="3.8" ry="4.5" fill="none" stroke="#E60000" stroke-width="1.9"/><ellipse cx="634.3" cy="523.6" rx="3.8" ry="4.5" fill="none" stroke="#E60000" stroke-width="1.9"/><ellipse cx="664.3" cy="522.6" rx="3.8" ry="4.5" fill="none" stroke="#E60000" stroke-width="1.9"/><ellipse cx="694.5" cy="521.2" rx="3.8" ry="4.5" fill="none" stroke="#E60000" stroke-width="1.9"/><ellipse cx="724.3" cy="519.9" rx="3.8" ry="4.5" fill="none" stroke="#E60000" stroke-width="1.9"/><ellipse cx="756.3" cy="518.6" rx="3.8" ry="4.5" fill="none" stroke="#E60000" stroke-width="1.9"/><ellipse cx="788.2" cy="517.5" rx="3.8" ry="4.5" fill="none" stroke="#E60000" stroke-width="1.9"/><ellipse cx="820.2" cy="516.4" rx="3.8" ry="4.5" fill="none" stroke="#E60000" stroke-width="1.9"/><ellipse cx="852.2" cy="515.5" rx="3.8" ry="4.5" fill="none" stroke="#E60000" stroke-width="1.9"/><ellipse cx="884.1" cy="514.3" rx="3.8" ry="4.5" fill="none" stroke="#E60000" stroke-width="1.9"/><ellipse cx="917.2" cy="512.4" rx="3.8" ry="4.5" fill="none" stroke="#E60000" stroke-width="1.9"/><ellipse cx="951.5" cy="510.1" rx="3.8" ry="4.5" fill="none" stroke="#E60000" stroke-width="1.9"/><ellipse cx="981.5" cy="508.1" rx="3.8" ry="4.5" fill="none" stroke="#E60000" stroke-width="1.9"/><ellipse cx="1015.4" cy="505.9" rx="3.8" ry="4.5" fill="none" stroke="#E60000" stroke-width="1.9"/><ellipse cx="1047.6" cy="504.2" rx="3.8" ry="4.5" fill="none" stroke="#E60000" stroke-width="1.9"/><ellipse cx="1081.1" cy="502.4" rx="3.8" ry="4.5" fill="none" stroke="#E60000" stroke-width="1.9"/><ellipse cx="1113.1" cy="500.4" rx="3.8" ry="4.5" fill="none" stroke="#E60000" stroke-width="1.9"/><ellipse cx="1145.1" cy="497.9" rx="3.8" ry="4.5" fill="none" stroke="#E60000" stroke-width="1.9"/><ellipse cx="1177" cy="495" rx="3.8" ry="4.5" fill="none" stroke="#E60000" stroke-width="1.9"/><ellipse cx="1211" cy="491.8" rx="3.8" ry="4.5" fill="none" stroke="#E60000" stroke-width="1.9"/><ellipse cx="1245" cy="488.6" rx="3.8" ry="4.5" fill="none" stroke="#E60000" stroke-width="1.9"/><ellipse cx="1274.8" cy="486.1" rx="3.8" ry="4.5" fill="none" stroke="#E60000" stroke-width="1.9"/><ellipse cx="1306.8" cy="483.2" rx="3.8" ry="4.5" fill="none" stroke="#E60000" stroke-width="1.9"/><ellipse cx="1336.7" cy="479.1" rx="3.8" ry="4.5" fill="none" stroke="#E60000" stroke-width="1.9"/><ellipse cx="1366.5" cy="473.7" rx="3.8" ry="4.5" fill="none" stroke="#E60000" stroke-width="1.9"/><ellipse cx="1401" cy="466.2" rx="3.8" ry="4.5" fill="none" stroke="#E60000" stroke-width="1.9"/><ellipse cx="1434.6" cy="458.2" rx="3.8" ry="4.5" fill="none" stroke="#E60000" stroke-width="1.9"/><ellipse cx="1465.5" cy="449.6" rx="3.8" ry="4.5" fill="none" stroke="#E60000" stroke-width="1.9"/><ellipse cx="1497.8" cy="439.1" rx="3.8" ry="4.5" fill="none" stroke="#E60000" stroke-width="1.9"/><ellipse cx="1529.5" cy="428.2" rx="3.8" ry="4.5" fill="none" stroke="#E60000" stroke-width="1.9"/><ellipse cx="1565" cy="415.6" rx="3.8" ry="4.5" fill="none" stroke="#E60000" stroke-width="1.9"/><ellipse cx="1597.5" cy="404" rx="3.8" ry="4.5" fill="none" stroke="#E60000" stroke-width="1.9"/><ellipse cx="1630.5" cy="392" rx="3.8" ry="4.5" fill="none" stroke="#E60000" stroke-width="1.9"/><ellipse cx="1660" cy="380.2" rx="3.8" ry="4.5" fill="none" stroke="#E60000" stroke-width="1.9"/><ellipse cx="1693.2" cy="361.7" rx="3.8" ry="4.5" fill="none" stroke="#E60000" stroke-width="1.9"/><ellipse cx="1729.1" cy="330.7" rx="3.8" ry="4.5" fill="none" stroke="#E60000" stroke-width="1.9"/><ellipse cx="1759.7" cy="289.4" rx="3.8" ry="4.5" fill="none" stroke="#E60000" stroke-width="1.9"/><ellipse cx="237.5" cy="548.4" rx="4.4" ry="5.0" fill="#E20000"/><ellipse cx="268.9" cy="547.2" rx="4.4" ry="5.0" fill="#E20000"/><ellipse cx="303.4" cy="546" rx="4.4" ry="5.0" fill="#E20000"/><ellipse cx="333.4" cy="544.8" rx="4.4" ry="5.0" fill="#E20000"/><ellipse cx="374.5" cy="542.4" rx="4.4" ry="5.0" fill="#E20000"/><ellipse cx="395.2" cy="541" rx="4.4" ry="5.0" fill="#E20000"/><ellipse cx="438.2" cy="538.3" rx="4.4" ry="5.0" fill="#E20000"/><ellipse cx="459.1" cy="537.3" rx="4.4" ry="5.0" fill="#E20000"/><ellipse cx="502.1" cy="535.7" rx="4.4" ry="5.0" fill="#E20000"/><ellipse cx="520.9" cy="534.9" rx="4.4" ry="5.0" fill="#E20000"/><ellipse cx="564.2" cy="533.5" rx="4.4" ry="5.0" fill="#E20000"/><ellipse cx="585.4" cy="532.7" rx="4.4" ry="5.0" fill="#E20000"/><ellipse cx="628.4" cy="531" rx="4.4" ry="5.0" fill="#E20000"/><ellipse cx="649.3" cy="530.3" rx="4.4" ry="5.0" fill="#E20000"/><ellipse cx="692.3" cy="528.9" rx="4.4" ry="5.0" fill="#E20000"/><ellipse cx="713.3" cy="528.1" rx="4.4" ry="5.0" fill="#E20000"/><ellipse cx="756.3" cy="526.3" rx="4.4" ry="5.0" fill="#E20000"/><ellipse cx="777.2" cy="525.4" rx="4.4" ry="5.0" fill="#E20000"/><ellipse cx="819.1" cy="523.8" rx="4.4" ry="5.0" fill="#E20000"/><ellipse cx="838.9" cy="523.1" rx="4.4" ry="5.0" fill="#E20000"/><ellipse cx="884.1" cy="521.2" rx="4.4" ry="5.0" fill="#E20000"/><ellipse cx="904" cy="520.3" rx="4.4" ry="5.0" fill="#E20000"/><ellipse cx="948" cy="518.4" rx="4.4" ry="5.0" fill="#E20000"/><ellipse cx="968.7" cy="517.7" rx="4.4" ry="5.0" fill="#E20000"/><ellipse cx="1011.7" cy="515.8" rx="4.4" ry="5.0" fill="#E20000"/><ellipse cx="1032.6" cy="514.4" rx="4.4" ry="5.0" fill="#E20000"/><ellipse cx="1075.6" cy="511.3" rx="4.4" ry="5.0" fill="#E20000"/><ellipse cx="1098.3" cy="509.4" rx="4.4" ry="5.0" fill="#E20000"/><ellipse cx="1127.4" cy="506.8" rx="4.4" ry="5.0" fill="#E20000"/><ellipse cx="1161.6" cy="504.1" rx="4.4" ry="5.0" fill="#E20000"/><ellipse cx="1196" cy="500.5" rx="4.4" ry="5.0" fill="#E20000"/><ellipse cx="1231.2" cy="495.2" rx="4.4" ry="5.0" fill="#E20000"/><ellipse cx="1263.1" cy="488.9" rx="4.4" ry="5.0" fill="#E20000"/><ellipse cx="1292.6" cy="482.4" rx="4.4" ry="5.0" fill="#E20000"/><ellipse cx="1321.8" cy="475.3" rx="4.4" ry="5.0" fill="#E20000"/><ellipse cx="1359" cy="465.4" rx="4.4" ry="5.0" fill="#E20000"/><ellipse cx="1385.3" cy="457.4" rx="4.4" ry="5.0" fill="#E20000"/><ellipse cx="1422.9" cy="445" rx="4.4" ry="5.0" fill="#E20000"/><ellipse cx="1453.1" cy="436.1" rx="4.4" ry="5.0" fill="#E20000"/><ellipse cx="1486.2" cy="428" rx="4.4" ry="5.0" fill="#E20000"/><ellipse cx="1518.4" cy="420.1" rx="4.4" ry="5.0" fill="#E20000"/><ellipse cx="1549" cy="411.4" rx="4.4" ry="5.0" fill="#E20000"/><ellipse cx="1582.2" cy="400.3" rx="4.4" ry="5.0" fill="#E20000"/><ellipse cx="1608.6" cy="389.4" rx="4.4" ry="5.0" fill="#E20000"/><ellipse cx="1644.4" cy="371" rx="4.4" ry="5.0" fill="#E20000"/><ellipse cx="1677.8" cy="350.5" rx="4.4" ry="5.0" fill="#E20000"/><ellipse cx="1706.7" cy="329.5" rx="4.4" ry="5.0" fill="#E20000"/><ellipse cx="1740.3" cy="297.1" rx="4.4" ry="5.0" fill="#E20000"/></g>
<g><path d="M228.4,419.3C236.9,418.4 265,415.4 279.1,413.9C293.2,412.4 302.5,411.3 312.9,410.3C323.3,409.3 330.9,408.6 341.3,407.9C351.7,407.2 364.2,406.6 375.1,406C386.1,405.4 395.7,404.9 407,404.3C418.3,403.7 432.1,403 442.8,402.4C453.5,401.8 460.1,401.4 471,400.9C481.9,400.3 493.1,399.8 508.5,399.1C523.9,398.4 549.7,397.3 563.5,396.7C577.3,396.1 563.1,396.6 591.3,395.4C619.5,394.3 682,391.8 732.7,389.8C783.4,387.7 842.1,385.6 895.6,383.2C949.1,380.8 1001.4,379 1053.6,375.3C1105.8,371.7 1155.8,367.8 1208.6,361.3C1261.4,354.7 1328.6,343.6 1370.6,336C1412.6,328.4 1434.2,322.2 1460.5,315.6C1486.8,309 1508,302.7 1528.4,296.5C1548.8,290.4 1567.4,284 1583.1,278.6C1598.8,273.1 1610.8,268.7 1622.3,263.9C1633.8,259.2 1643,254.9 1652.1,250C1661.2,245.1 1669.7,239.6 1676.9,234.6C1684.1,229.6 1689.2,225.6 1695.2,220.1C1701.2,214.6 1707.8,207.4 1712.6,201.7C1717.4,196 1720.6,190.8 1724,185.9C1727.4,181 1730.2,176.9 1733,172C1735.8,167.1 1738.6,160.9 1740.8,156.5C1743,152.1 1744.8,149.7 1746.3,145.4C1747.8,141.2 1747.9,136.4 1749.5,131C1751.1,125.6 1754.7,115.8 1755.7,112.8" fill="none" stroke="#FFC000" stroke-width="3.0" stroke-linejoin="round"/><path d="M419.8,402C432.9,401.5 471.7,399.8 498.6,398.7C525.5,397.6 553.5,396.4 581.4,395.2C609.3,394.1 642.5,392.7 666.3,391.7C690.1,390.8 684.6,391.1 724.3,389.4C764,387.7 849.5,384.5 904.4,381.4C959.3,378.4 1001.9,375.9 1053.6,371.1C1105.3,366.3 1164.5,360 1214.5,352.5C1264.5,345 1312.3,335 1353.3,325.9C1394.3,316.8 1431.3,306 1460.5,298.1C1489.7,290.2 1508.9,284.2 1528.4,278.4C1547.9,272.6 1560.5,269.6 1577.3,263.1C1594.1,256.7 1615.4,246.9 1629.3,239.8C1643.2,232.6 1651.5,226.4 1660.5,220.1C1669.5,213.9 1677.3,207.7 1683.3,202.2C1689.3,196.7 1690.7,195 1696.7,187.4C1702.7,179.8 1714.1,163.9 1719.2,156.8C1724.3,149.7 1724.7,148.4 1727.2,144.6C1729.8,140.8 1732.4,136.9 1734.5,133.7C1736.6,130.5 1738.1,127.8 1739.6,125.4C1741.1,123 1742.8,120.2 1743.5,119.2" fill="none" stroke="#FFC000" stroke-width="3.0" stroke-linejoin="round"/><ellipse cx="419.8" cy="402" rx="3.8" ry="4.5" fill="none" stroke="#FFC000" stroke-width="1.9"/><ellipse cx="498.6" cy="398.6" rx="3.8" ry="4.5" fill="none" stroke="#FFC000" stroke-width="1.9"/><ellipse cx="581.4" cy="395" rx="3.8" ry="4.5" fill="none" stroke="#FFC000" stroke-width="1.9"/><ellipse cx="666.3" cy="391.5" rx="3.8" ry="4.5" fill="none" stroke="#FFC000" stroke-width="1.9"/><ellipse cx="724.3" cy="389.1" rx="3.8" ry="4.5" fill="none" stroke="#FFC000" stroke-width="1.9"/><ellipse cx="904.4" cy="380.9" rx="3.8" ry="4.5" fill="none" stroke="#FFC000" stroke-width="1.9"/><ellipse cx="1053.6" cy="370.1" rx="3.8" ry="4.5" fill="none" stroke="#FFC000" stroke-width="1.9"/><ellipse cx="1214.5" cy="350.9" rx="3.8" ry="4.5" fill="none" stroke="#FFC000" stroke-width="1.9"/><ellipse cx="1353.3" cy="324" rx="3.8" ry="4.5" fill="none" stroke="#FFC000" stroke-width="1.9"/><ellipse cx="1460.5" cy="297.1" rx="3.8" ry="4.5" fill="none" stroke="#FFC000" stroke-width="1.9"/><ellipse cx="1528.4" cy="278.1" rx="3.8" ry="4.5" fill="none" stroke="#FFC000" stroke-width="1.9"/><ellipse cx="1577.3" cy="263.1" rx="3.8" ry="4.5" fill="none" stroke="#FFC000" stroke-width="1.9"/><ellipse cx="1629.3" cy="239.8" rx="3.8" ry="4.5" fill="none" stroke="#FFC000" stroke-width="1.9"/><ellipse cx="1660.5" cy="220.1" rx="3.8" ry="4.5" fill="none" stroke="#FFC000" stroke-width="1.9"/><ellipse cx="1683.3" cy="202.2" rx="3.8" ry="4.5" fill="none" stroke="#FFC000" stroke-width="1.9"/><ellipse cx="1696.7" cy="187.4" rx="3.8" ry="4.5" fill="none" stroke="#FFC000" stroke-width="1.9"/><ellipse cx="1719.2" cy="156.8" rx="3.8" ry="4.5" fill="none" stroke="#FFC000" stroke-width="1.9"/><ellipse cx="1727.2" cy="144.6" rx="3.8" ry="4.5" fill="none" stroke="#FFC000" stroke-width="1.9"/><ellipse cx="1734.5" cy="133.7" rx="3.8" ry="4.5" fill="none" stroke="#FFC000" stroke-width="1.9"/><ellipse cx="1739.6" cy="125.4" rx="3.8" ry="4.5" fill="none" stroke="#FFC000" stroke-width="1.9"/><ellipse cx="1743.5" cy="119.2" rx="3.8" ry="4.5" fill="none" stroke="#FFC000" stroke-width="1.9"/><ellipse cx="228.4" cy="419.3" rx="4.6" ry="5.2" fill="#FFC000"/><ellipse cx="279.1" cy="413.9" rx="4.6" ry="5.2" fill="#FFC000"/><ellipse cx="312.9" cy="410.3" rx="4.6" ry="5.2" fill="#FFC000"/><ellipse cx="341.3" cy="407.9" rx="4.6" ry="5.2" fill="#FFC000"/><ellipse cx="375.1" cy="406" rx="4.6" ry="5.2" fill="#FFC000"/><ellipse cx="407" cy="404.3" rx="4.6" ry="5.2" fill="#FFC000"/><ellipse cx="442.8" cy="402.4" rx="4.6" ry="5.2" fill="#FFC000"/><ellipse cx="471" cy="400.9" rx="4.6" ry="5.2" fill="#FFC000"/><ellipse cx="508.5" cy="399.1" rx="4.6" ry="5.2" fill="#FFC000"/><ellipse cx="563.5" cy="396.7" rx="4.6" ry="5.2" fill="#FFC000"/><ellipse cx="591.3" cy="395.4" rx="4.6" ry="5.2" fill="#FFC000"/><ellipse cx="732.7" cy="389.8" rx="4.6" ry="5.2" fill="#FFC000"/><ellipse cx="895.6" cy="383.2" rx="4.6" ry="5.2" fill="#FFC000"/><ellipse cx="1053.6" cy="375.3" rx="4.6" ry="5.2" fill="#FFC000"/><ellipse cx="1208.6" cy="361.3" rx="4.6" ry="5.2" fill="#FFC000"/><ellipse cx="1370.6" cy="336" rx="4.6" ry="5.2" fill="#FFC000"/><ellipse cx="1460.5" cy="315.6" rx="4.6" ry="5.2" fill="#FFC000"/><ellipse cx="1528.4" cy="296.5" rx="4.6" ry="5.2" fill="#FFC000"/><ellipse cx="1583.1" cy="278.6" rx="4.6" ry="5.2" fill="#FFC000"/><ellipse cx="1622.3" cy="263.9" rx="4.6" ry="5.2" fill="#FFC000"/><ellipse cx="1652.1" cy="250" rx="4.6" ry="5.2" fill="#FFC000"/><ellipse cx="1676.9" cy="234.6" rx="4.6" ry="5.2" fill="#FFC000"/><ellipse cx="1695.2" cy="220.1" rx="4.6" ry="5.2" fill="#FFC000"/><ellipse cx="1712.6" cy="201.7" rx="4.6" ry="5.2" fill="#FFC000"/><ellipse cx="1724" cy="185.9" rx="4.6" ry="5.2" fill="#FFC000"/><ellipse cx="1733" cy="172" rx="4.6" ry="5.2" fill="#FFC000"/><ellipse cx="1740.8" cy="156.5" rx="4.6" ry="5.2" fill="#FFC000"/><ellipse cx="1746.3" cy="145.4" rx="4.6" ry="5.2" fill="#FFC000"/><ellipse cx="1749.5" cy="131" rx="4.6" ry="5.2" fill="#FFC000"/><ellipse cx="1755.7" cy="112.8" rx="4.6" ry="5.2" fill="#FFC000"/><circle cx="187" cy="439.5" r="10" fill="#FFC000"/><circle cx="193" cy="433" r="6" fill="#FFC000"/><circle cx="1755.7" cy="112.8" r="11" fill="#FFC000"/><path d="M193,433 C205,427 215,423 228.4,419.3" stroke="#FFC000" stroke-width="3" fill="none"/></g>
<g><path d="M419.5,308.8C432.8,308.2 472.3,306.4 499.3,305.3C526.3,304.1 558,302.7 581.4,301.7C604.8,300.7 614.6,300.3 639.8,299.3C665,298.3 691.4,297.5 732.7,295.9C774.1,294.3 836.1,292.6 887.9,289.8C939.7,287.1 987.2,284.9 1043.6,279.6C1099.9,274.3 1172.5,265.8 1226,257.9C1279.5,249.9 1325.6,239.9 1364.7,231.8C1403.8,223.7 1433.9,215.7 1460.5,209.1C1487.1,202.6 1503.8,198.1 1524.4,192.3C1545,186.5 1569.3,179.2 1584,174.2C1598.7,169.3 1600.9,168.4 1612.8,162.6C1624.7,156.8 1645.4,145.4 1655.4,139.5C1665.4,133.6 1665.7,133 1673,127.4C1680.3,121.9 1691.2,113.1 1699,106C1706.8,98.9 1714.8,89.7 1719.5,85C1724.2,80.3 1725,79.9 1727.2,77.7C1729.5,75.5 1731,73.7 1733,72C1735,70.3 1738.4,68.2 1739.5,67.5" fill="none" stroke="#213A58" stroke-width="2.6" stroke-linejoin="round"/><path d="M194.5,334.6C200.1,333.5 214.9,330.6 228.3,328.1C241.7,325.6 261.5,321.5 275,319.5C288.5,317.5 297.8,317 309.4,316C321,315.1 333.3,314.5 344.9,313.8C356.4,313.1 366.7,312.4 378.7,311.7C390.7,311 405.2,310.2 416.8,309.5C428.4,308.9 437.2,308.3 448.1,307.8C459,307.3 471.7,306.8 482.3,306.4C492.9,306 498,306 512,305.6C526,305.1 552.8,304.1 566.5,303.5C580.2,302.9 539.1,304.3 594.2,302C649.3,299.7 820.4,293 896.9,289.5C973.4,286 1000.6,283.8 1052.9,281C1105.2,278.1 1157.6,277.8 1210.8,272.5C1264,267.2 1331.3,256.1 1372.3,249.2C1413.3,242.3 1432.2,236.9 1456.6,231.1C1481,225.2 1498.6,220.1 1518.7,214.3C1538.8,208.5 1560.7,201.6 1577.3,196.1C1593.9,190.6 1606.8,185.9 1618.3,181.4C1629.8,176.9 1638.1,173.3 1646.5,169.2C1654.9,165.2 1662.3,161 1668.9,157.1C1675.5,153.3 1679.6,151.4 1686,146C1692.4,140.6 1702.4,130.3 1707.5,125C1712.6,119.7 1714,117.4 1716.8,114C1719.5,110.6 1721.9,107.6 1724,104.5C1726.1,101.4 1727.9,98.2 1729.6,95.2C1731.3,92.2 1732.8,89.1 1734,86.6C1735.2,84.1 1735.6,82.6 1737,80C1738.4,77.4 1740.9,73.8 1742.5,71.2C1744.1,68.6 1745.9,65.4 1746.6,64.2" fill="none" stroke="#213A58" stroke-width="2.6" stroke-linejoin="round"/><ellipse cx="194.5" cy="332.6" rx="3.8" ry="4.6" fill="none" stroke="#213A58" stroke-width="1.9"/><ellipse cx="228.3" cy="326.2" rx="3.8" ry="4.6" fill="none" stroke="#213A58" stroke-width="1.9"/><ellipse cx="275" cy="317.7" rx="3.8" ry="4.6" fill="none" stroke="#213A58" stroke-width="1.9"/><ellipse cx="309.4" cy="314.3" rx="3.8" ry="4.6" fill="none" stroke="#213A58" stroke-width="1.9"/><ellipse cx="344.9" cy="312.2" rx="3.8" ry="4.6" fill="none" stroke="#213A58" stroke-width="1.9"/><ellipse cx="378.7" cy="310.2" rx="3.8" ry="4.6" fill="none" stroke="#213A58" stroke-width="1.9"/><ellipse cx="416.8" cy="308.2" rx="3.8" ry="4.6" fill="none" stroke="#213A58" stroke-width="1.9"/><ellipse cx="448.1" cy="306.5" rx="3.8" ry="4.6" fill="none" stroke="#213A58" stroke-width="1.9"/><ellipse cx="482.3" cy="305.2" rx="3.8" ry="4.6" fill="none" stroke="#213A58" stroke-width="1.9"/><ellipse cx="512" cy="304.4" rx="3.8" ry="4.6" fill="none" stroke="#213A58" stroke-width="1.9"/><ellipse cx="566.5" cy="302.6" rx="3.8" ry="4.6" fill="none" stroke="#213A58" stroke-width="1.9"/><ellipse cx="594.2" cy="302" rx="3.8" ry="4.6" fill="none" stroke="#213A58" stroke-width="1.9"/><ellipse cx="896.9" cy="291.3" rx="3.8" ry="4.6" fill="none" stroke="#213A58" stroke-width="1.9"/><ellipse cx="1052.9" cy="283" rx="3.8" ry="4.6" fill="none" stroke="#213A58" stroke-width="1.9"/><ellipse cx="1210.8" cy="270.4" rx="3.8" ry="4.6" fill="none" stroke="#213A58" stroke-width="1.9"/><ellipse cx="1372.3" cy="246.8" rx="3.8" ry="4.6" fill="none" stroke="#213A58" stroke-width="1.9"/><ellipse cx="1456.6" cy="228.6" rx="3.8" ry="4.6" fill="none" stroke="#213A58" stroke-width="1.9"/><ellipse cx="1518.7" cy="212.3" rx="3.8" ry="4.6" fill="none" stroke="#213A58" stroke-width="1.9"/><ellipse cx="1577.3" cy="194.9" rx="3.8" ry="4.6" fill="none" stroke="#213A58" stroke-width="1.9"/><ellipse cx="1618.3" cy="181" rx="3.8" ry="4.6" fill="none" stroke="#213A58" stroke-width="1.9"/><ellipse cx="1646.5" cy="169.2" rx="3.8" ry="4.6" fill="none" stroke="#213A58" stroke-width="1.9"/><ellipse cx="1668.9" cy="157.1" rx="3.8" ry="4.6" fill="none" stroke="#213A58" stroke-width="1.9"/><ellipse cx="1686" cy="146" rx="3.8" ry="4.6" fill="none" stroke="#213A58" stroke-width="1.9"/><ellipse cx="1707.5" cy="125" rx="3.8" ry="4.6" fill="none" stroke="#213A58" stroke-width="1.9"/><ellipse cx="1716.8" cy="114" rx="3.8" ry="4.6" fill="none" stroke="#213A58" stroke-width="1.9"/><ellipse cx="1724" cy="104.5" rx="3.8" ry="4.6" fill="none" stroke="#213A58" stroke-width="1.9"/><ellipse cx="1729.6" cy="95.2" rx="3.8" ry="4.6" fill="none" stroke="#213A58" stroke-width="1.9"/><ellipse cx="1734" cy="86.6" rx="3.8" ry="4.6" fill="none" stroke="#213A58" stroke-width="1.9"/><ellipse cx="1737" cy="80" rx="3.8" ry="4.6" fill="none" stroke="#213A58" stroke-width="1.9"/><ellipse cx="1742.5" cy="71.2" rx="3.8" ry="4.6" fill="none" stroke="#213A58" stroke-width="1.9"/><ellipse cx="1746.6" cy="64.2" rx="3.8" ry="4.6" fill="none" stroke="#213A58" stroke-width="1.9"/><ellipse cx="419.5" cy="308.8" rx="4.2" ry="5.0" fill="#003467"/><ellipse cx="499.3" cy="305.3" rx="4.2" ry="5.0" fill="#003467"/><ellipse cx="581.4" cy="301.7" rx="4.2" ry="5.0" fill="#003467"/><ellipse cx="639.8" cy="299.3" rx="4.2" ry="5.0" fill="#003467"/><ellipse cx="732.7" cy="295.9" rx="4.2" ry="5.0" fill="#003467"/><ellipse cx="887.9" cy="289.8" rx="4.2" ry="5.0" fill="#003467"/><ellipse cx="1043.6" cy="279.6" rx="4.2" ry="5.0" fill="#003467"/><ellipse cx="1226" cy="257.9" rx="4.2" ry="5.0" fill="#003467"/><ellipse cx="1364.7" cy="231.8" rx="4.2" ry="5.0" fill="#003467"/><ellipse cx="1460.5" cy="209.1" rx="4.2" ry="5.0" fill="#003467"/><ellipse cx="1524.4" cy="192.3" rx="4.2" ry="5.0" fill="#003467"/><ellipse cx="1584" cy="174.2" rx="4.2" ry="5.0" fill="#003467"/><ellipse cx="1612.8" cy="162.6" rx="4.2" ry="5.0" fill="#003467"/><ellipse cx="1655.4" cy="139.5" rx="4.2" ry="5.0" fill="#003467"/><ellipse cx="1673" cy="127.4" rx="4.2" ry="5.0" fill="#003467"/><ellipse cx="1699" cy="106" rx="4.2" ry="5.0" fill="#003467"/><ellipse cx="1719.5" cy="85" rx="4.2" ry="5.0" fill="#003467"/><ellipse cx="1727.2" cy="77.7" rx="4.2" ry="5.0" fill="#003467"/><ellipse cx="1733" cy="72" rx="4.2" ry="5.0" fill="#003467"/><ellipse cx="1739.5" cy="67.5" rx="4.2" ry="5.0" fill="#003467"/></g>
<line x1="177.3" y1="27.5" x2="177.3" y2="1052" stroke="#5a5a5a" stroke-width="2.6"/>
<path d="M177.3,29 H1774.3 V1050.5 H177.3" fill="none" stroke="#000" stroke-width="3.3"/>
<text x="140.5" y="1060" text-anchor="end" font-size="39">0</text>
<text x="140.5" y="1003.3" text-anchor="end" font-size="39">50</text>
<text x="140.5" y="946.6" text-anchor="end" font-size="39">100</text>
<text x="140.5" y="889.9" text-anchor="end" font-size="39">150</text>
<text x="140.5" y="833.2" text-anchor="end" font-size="39">200</text>
<text x="140.5" y="776.4" text-anchor="end" font-size="39">250</text>
<text x="140.5" y="719.7" text-anchor="end" font-size="39">300</text>
<text x="140.5" y="663" text-anchor="end" font-size="39">350</text>
<text x="140.5" y="606.3" text-anchor="end" font-size="39">400</text>
<text x="140.5" y="549.6" text-anchor="end" font-size="39">450</text>
<text x="140.5" y="492.9" text-anchor="end" font-size="39">500</text>
<text x="140.5" y="436.2" text-anchor="end" font-size="39">550</text>
<text x="140.5" y="379.5" text-anchor="end" font-size="39">600</text>
<text x="140.5" y="322.7" text-anchor="end" font-size="39">650</text>
<text x="140.5" y="266" text-anchor="end" font-size="39">700</text>
<text x="140.5" y="209.3" text-anchor="end" font-size="39">750</text>
<text x="140.5" y="152.6" text-anchor="end" font-size="39">800</text>
<text x="140.5" y="95.9" text-anchor="end" font-size="39">850</text>
<text x="140.5" y="39.2" text-anchor="end" font-size="39">900</text>
<text x="166.7" y="1146" text-anchor="middle" font-size="38.5">0</text>
<text x="330" y="1146" text-anchor="middle" font-size="38.5">0.1</text>
<text x="509.3" y="1146" text-anchor="middle" font-size="38.5">0.2</text>
<text x="687" y="1146" text-anchor="middle" font-size="38.5">0.3</text>
<text x="847" y="1146" text-anchor="middle" font-size="38.5">0.4</text>
<text x="1007" y="1146" text-anchor="middle" font-size="38.5">0.5</text>
<text x="1166.2" y="1146" text-anchor="middle" font-size="38.5">0.6</text>
<text x="1326" y="1146" text-anchor="middle" font-size="38.5">0.7</text>
<text x="1485.3" y="1146" text-anchor="middle" font-size="38.5">0.8</text>
<text x="1645.5" y="1146" text-anchor="middle" font-size="38.5">0.9</text>
<text x="1791" y="1146" text-anchor="middle" font-size="38.5">1</text>
<text x="229.2" y="277.9" font-size="35" font-weight="bold" textLength="121.9" lengthAdjust="spacingAndGlyphs">Zn-BEA</text>
<text x="230.4" y="384.4" font-size="35" font-weight="bold" textLength="121.8" lengthAdjust="spacingAndGlyphs">Co-BEA</text>
<text x="223.4" y="513.6" font-size="35" font-weight="bold" textLength="123.5" lengthAdjust="spacingAndGlyphs">Cu-BEA</text>
<text x="229.4" y="615.4" font-size="35" font-weight="bold" textLength="114.9" lengthAdjust="spacingAndGlyphs">Fe-BEA</text>
<text x="231.1" y="737" font-size="35" font-weight="bold" textLength="118.8" lengthAdjust="spacingAndGlyphs">Sn-BEA</text>
<text x="229.8" y="878" font-size="35" font-weight="bold" textLength="123.5" lengthAdjust="spacingAndGlyphs">Na-BEA</text>
<text x="721.5" y="1248" font-size="35.5" font-weight="bold" textLength="362" lengthAdjust="spacingAndGlyphs">Relative Pressure [p/p<tspan font-size="24" dy="4">0</tspan><tspan dy="-4">]</tspan></text>
<text transform="translate(51.5,756.5) rotate(-90)" x="0" y="0" font-size="38" font-weight="bold" textLength="421" lengthAdjust="spacingAndGlyphs">Volume Adsorbed cm³/g</text>
</svg></body></html>
